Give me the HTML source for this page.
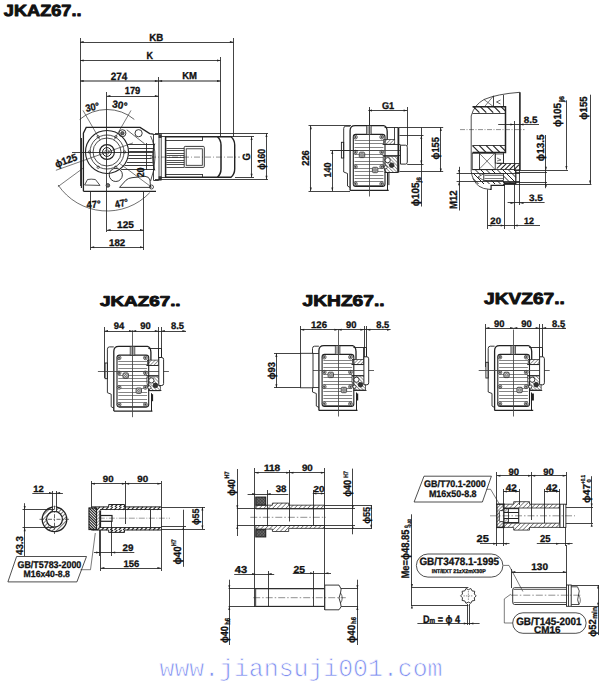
<!DOCTYPE html>
<html><head><meta charset="utf-8"><style>
html,body{margin:0;padding:0;background:#fff;width:608px;height:686px;overflow:hidden}
svg{position:absolute;left:0;top:0;display:block;text-rendering:geometricPrecision}
text{font-family:"Liberation Sans",sans-serif}
</style></head><body>
<svg width="608" height="686" viewBox="0 0 608 686" stroke-linecap="butt">
<defs><pattern id="hp1" patternUnits="userSpaceOnUse" width="2.6" height="2.6" patternTransform="rotate(45)"><line x1="0" y1="-1" x2="0" y2="3.6" stroke="#222" stroke-width="0.9"/></pattern><pattern id="hp2" patternUnits="userSpaceOnUse" width="2.4" height="2.4" patternTransform="rotate(-45)"><line x1="0" y1="-1" x2="0" y2="3.4" stroke="#222" stroke-width="0.8"/></pattern><pattern id="hp3" patternUnits="userSpaceOnUse" width="2.6" height="2.6" patternTransform="rotate(45)"><line x1="0" y1="-1" x2="0" y2="3.6" stroke="#222" stroke-width="0.9"/></pattern><pattern id="hp4" patternUnits="userSpaceOnUse" width="2.4" height="2.4" patternTransform="rotate(-45)"><line x1="0" y1="-1" x2="0" y2="3.4" stroke="#222" stroke-width="0.8"/></pattern><pattern id="hp5" patternUnits="userSpaceOnUse" width="2.6" height="2.6" patternTransform="rotate(45)"><line x1="0" y1="-1" x2="0" y2="3.6" stroke="#222" stroke-width="0.9"/></pattern><pattern id="hp6" patternUnits="userSpaceOnUse" width="2.4" height="2.4" patternTransform="rotate(-45)"><line x1="0" y1="-1" x2="0" y2="3.4" stroke="#222" stroke-width="0.8"/></pattern><pattern id="hp7" patternUnits="userSpaceOnUse" width="2.6" height="2.6" patternTransform="rotate(45)"><line x1="0" y1="-1" x2="0" y2="3.6" stroke="#222" stroke-width="0.9"/></pattern><pattern id="hp8" patternUnits="userSpaceOnUse" width="2.4" height="2.4" patternTransform="rotate(-45)"><line x1="0" y1="-1" x2="0" y2="3.4" stroke="#222" stroke-width="0.8"/></pattern><pattern id="hp9" patternUnits="userSpaceOnUse" width="2.9" height="2.9" patternTransform="rotate(45)"><line x1="0" y1="-1" x2="0" y2="3.9" stroke="#222" stroke-width="1.2"/></pattern><pattern id="hp10" patternUnits="userSpaceOnUse" width="2.2" height="2.2" patternTransform="rotate(45)"><line x1="0" y1="-1" x2="0" y2="3.2" stroke="#222" stroke-width="0.8"/></pattern><pattern id="hp11" patternUnits="userSpaceOnUse" width="3.1" height="3.1" patternTransform="rotate(45)"><line x1="0" y1="-1" x2="0" y2="4.1" stroke="#222" stroke-width="1.0"/></pattern><pattern id="hp12" patternUnits="userSpaceOnUse" width="2.2" height="2.2" patternTransform="rotate(45)"><line x1="0" y1="-1" x2="0" y2="3.2" stroke="#222" stroke-width="0.6"/></pattern><pattern id="hp13" patternUnits="userSpaceOnUse" width="2.2" height="2.2" patternTransform="rotate(-45)"><line x1="0" y1="-1" x2="0" y2="3.2" stroke="#222" stroke-width="0.6"/></pattern><pattern id="hp14" patternUnits="userSpaceOnUse" width="2.4" height="2.4" patternTransform="rotate(45)"><line x1="0" y1="-1" x2="0" y2="3.4" stroke="#222" stroke-width="1.0"/></pattern><pattern id="hp15" patternUnits="userSpaceOnUse" width="1.8" height="1.8" patternTransform="rotate(45)"><line x1="0" y1="-1" x2="0" y2="2.8" stroke="#222" stroke-width="0.8"/></pattern><pattern id="hp16" patternUnits="userSpaceOnUse" width="1.8" height="1.8" patternTransform="rotate(45)"><line x1="0" y1="-1" x2="0" y2="2.8" stroke="#222" stroke-width="0.8"/></pattern></defs>
<text x="42.7" y="16.2" font-size="16.2" font-weight="bold" style="font-family:&quot;Liberation Sans&quot;" text-anchor="middle" fill="#111" textLength="77.8" lengthAdjust="spacingAndGlyphs" stroke="#111" stroke-width="0.9" stroke-linejoin="round">JKAZ67..</text>
<text x="140.3" y="306.4" font-size="14.25" font-weight="bold" style="font-family:&quot;Liberation Sans&quot;" text-anchor="middle" fill="#111" textLength="80.6" lengthAdjust="spacingAndGlyphs" stroke="#111" stroke-width="0.9" stroke-linejoin="round">JKAZ67..</text>
<text x="343.6" y="305.7" font-size="15.64" font-weight="bold" style="font-family:&quot;Liberation Sans&quot;" text-anchor="middle" fill="#111" textLength="82" lengthAdjust="spacingAndGlyphs" stroke="#111" stroke-width="0.9" stroke-linejoin="round">JKHZ67..</text>
<text x="524.5" y="304" font-size="16.06" font-weight="bold" style="font-family:&quot;Liberation Sans&quot;" text-anchor="middle" fill="#111" textLength="80.8" lengthAdjust="spacingAndGlyphs" stroke="#111" stroke-width="0.9" stroke-linejoin="round">JKVZ67..</text>
<line x1="80" y1="42.5" x2="233.5" y2="42.5" stroke="#222" stroke-width="0.85"/>
<path d="M80 42 L83.6 40.99 L83.6 43.01 Z" fill="#222" stroke="none"/>
<path d="M233.5 42 L229.9 40.99 L229.9 43.01 Z" fill="#222" stroke="none"/>
<line x1="80.5" y1="38" x2="80.5" y2="186" stroke="#222" stroke-width="0.85"/>
<line x1="233.5" y1="38" x2="233.5" y2="137" stroke="#222" stroke-width="0.85"/>
<text x="156.3" y="40.6" font-size="10.34" font-weight="bold" style="font-family:&quot;Liberation Sans&quot;" text-anchor="middle" fill="#111" textLength="14" lengthAdjust="spacingAndGlyphs" stroke="#111" stroke-width="0.3">KB</text>
<line x1="80" y1="60.5" x2="220.6" y2="60.5" stroke="#222" stroke-width="0.85"/>
<path d="M80 60.5 L83.6 59.49 L83.6 61.51 Z" fill="#222" stroke="none"/>
<path d="M220.6 60.5 L217 59.49 L217 61.51 Z" fill="#222" stroke="none"/>
<line x1="220.5" y1="57" x2="220.5" y2="137" stroke="#222" stroke-width="0.85"/>
<text x="149.75" y="58.7" font-size="10.34" font-weight="bold" style="font-family:&quot;Liberation Sans&quot;" text-anchor="middle" fill="#111" textLength="6.5" lengthAdjust="spacingAndGlyphs" stroke="#111" stroke-width="0.3">K</text>
<line x1="80" y1="81" x2="220.6" y2="81" stroke="#222" stroke-width="1.06"/>
<path d="M80 81 L83.6 79.99 L83.6 82.01 Z" fill="#222" stroke="none"/>
<path d="M220.6 81 L217 79.99 L217 82.01 Z" fill="#222" stroke="none"/>
<line x1="158.5" y1="77" x2="158.5" y2="134" stroke="#222" stroke-width="0.85"/>
<path d="M158.5 81 L154.9 79.99 L154.9 82.01 Z" fill="#222" stroke="none"/>
<path d="M158.5 81 L162.1 79.99 L162.1 82.01 Z" fill="#222" stroke="none"/>
<text x="119" y="79.8" font-size="10.61" font-weight="bold" style="font-family:&quot;Liberation Sans&quot;" text-anchor="middle" fill="#111" textLength="16.6" lengthAdjust="spacingAndGlyphs" stroke="#111" stroke-width="0.3">274</text>
<text x="189.6" y="79" font-size="10.06" font-weight="bold" style="font-family:&quot;Liberation Sans&quot;" text-anchor="middle" fill="#111" textLength="14.8" lengthAdjust="spacingAndGlyphs" stroke="#111" stroke-width="0.3">KM</text>
<line x1="106.8" y1="96.5" x2="158.5" y2="96.5" stroke="#222" stroke-width="0.85"/>
<path d="M106.8 96 L110.4 94.99 L110.4 97.01 Z" fill="#222" stroke="none"/>
<path d="M158.5 96 L154.9 94.99 L154.9 97.01 Z" fill="#222" stroke="none"/>
<line x1="106.5" y1="92" x2="106.5" y2="232" stroke="#222" stroke-width="0.85"/>
<text x="132.5" y="94.4" font-size="10.34" font-weight="bold" style="font-family:&quot;Liberation Sans&quot;" text-anchor="middle" fill="#111" textLength="15.6" lengthAdjust="spacingAndGlyphs" stroke="#111" stroke-width="0.3">179</text>
<line x1="107" y1="230.5" x2="143.6" y2="230.5" stroke="#222" stroke-width="0.85"/>
<path d="M107 230 L110.6 228.99 L110.6 231.01 Z" fill="#222" stroke="none"/>
<path d="M143.6 230 L140 228.99 L140 231.01 Z" fill="#222" stroke="none"/>
<line x1="90.6" y1="247.5" x2="143.6" y2="247.5" stroke="#222" stroke-width="0.85"/>
<path d="M90.6 247.2 L94.2 246.19 L94.2 248.21 Z" fill="#222" stroke="none"/>
<path d="M143.6 247.2 L140 246.19 L140 248.21 Z" fill="#222" stroke="none"/>
<line x1="90.5" y1="191" x2="90.5" y2="250" stroke="#222" stroke-width="0.85"/>
<line x1="143.5" y1="191" x2="143.5" y2="250" stroke="#222" stroke-width="0.85"/>
<text x="125.5" y="227.9" font-size="9.78" font-weight="bold" style="font-family:&quot;Liberation Sans&quot;" text-anchor="middle" fill="#111" textLength="16.8" lengthAdjust="spacingAndGlyphs" stroke="#111" stroke-width="0.3">125</text>
<text x="117.1" y="245.7" font-size="9.78" font-weight="bold" style="font-family:&quot;Liberation Sans&quot;" text-anchor="middle" fill="#111" textLength="16.2" lengthAdjust="spacingAndGlyphs" stroke="#111" stroke-width="0.3">182</text>
<path d="M83.4 191.3 L83.4 133.2 L86.2 127.4 L140.1 127.4 L149.7 133.6 L153.4 134.2" stroke="#222" stroke-width="1.3" fill="none"/>
<line x1="81.4" y1="138" x2="81.4" y2="188" stroke="#222" stroke-width="1.1"/>
<line x1="83.4" y1="191.3" x2="156" y2="191.3" stroke="#222" stroke-width="1.2"/>
<line x1="126.8" y1="129.8" x2="144.6" y2="143.8" stroke="#222" stroke-width="0.7"/>
<circle cx="107" cy="152" r="2.2" stroke="#222" stroke-width="0.6" fill="none"/>
<circle cx="107" cy="152" r="4.4" stroke="#222" stroke-width="1.0" fill="none"/>
<circle cx="107" cy="152" r="7.4" stroke="#222" stroke-width="1.2" fill="none"/>
<circle cx="107" cy="152" r="14" stroke="#222" stroke-width="0.8" fill="none"/>
<circle cx="107" cy="152" r="17" stroke="#222" stroke-width="0.8" fill="none"/>
<circle cx="107" cy="152" r="21.5" stroke="#222" stroke-width="1.1" fill="none"/>
<circle cx="98.2" cy="136.76" r="1.2" stroke="#222" stroke-width="0.7" fill="none"/>
<circle cx="115.8" cy="136.76" r="1.2" stroke="#222" stroke-width="0.7" fill="none"/>
<circle cx="124.6" cy="152" r="1.2" stroke="#222" stroke-width="0.7" fill="none"/>
<circle cx="89.4" cy="152" r="1.2" stroke="#222" stroke-width="0.7" fill="none"/>
<circle cx="98.2" cy="167.24" r="1.2" stroke="#222" stroke-width="0.7" fill="none"/>
<circle cx="115.8" cy="167.24" r="1.2" stroke="#222" stroke-width="0.7" fill="none"/>
<circle cx="115.8" cy="174.9" r="6.6" stroke="#222" stroke-width="0.9" fill="none"/>
<circle cx="138.6" cy="133.2" r="3.6" stroke="#222" stroke-width="0.9" fill="none"/>
<circle cx="122.4" cy="133.2" r="3.5" stroke="#222" stroke-width="0.9" fill="none"/>
<circle cx="122.4" cy="133.2" r="1.7" stroke="#222" stroke-width="0.7" fill="#666"/>
<circle cx="151.5" cy="187" r="2" stroke="#222" stroke-width="0.8" fill="none"/>
<circle cx="107.9" cy="185.4" r="1.8" stroke="#222" stroke-width="0.8" fill="#777"/>
<line x1="127.93" y1="144.5" x2="154.92" y2="144.5" stroke="#333" stroke-width="0.95"/>
<line x1="128.85" y1="148.5" x2="153.87" y2="148.5" stroke="#333" stroke-width="0.95"/>
<line x1="129.2" y1="151.5" x2="152.82" y2="151.5" stroke="#333" stroke-width="0.95"/>
<line x1="128.98" y1="155.5" x2="151.77" y2="155.5" stroke="#333" stroke-width="0.95"/>
<line x1="128.2" y1="158.5" x2="151.68" y2="158.5" stroke="#333" stroke-width="0.95"/>
<line x1="126.77" y1="162.5" x2="152.73" y2="162.5" stroke="#333" stroke-width="0.95"/>
<line x1="124.55" y1="165.5" x2="153.78" y2="165.5" stroke="#333" stroke-width="0.95"/>
<line x1="121.16" y1="169.5" x2="154.83" y2="169.5" stroke="#333" stroke-width="0.95"/>
<line x1="146.5" y1="143" x2="146.5" y2="170" stroke="#222" stroke-width="0.85"/>
<path d="M154.8 143.5 Q150.2 157 154.8 170.5" stroke="#222" stroke-width="0.8" fill="none"/>
<path d="M84.6 185 L87.5 179.5 Q91 178.8 95.4 179.5 L100 185.4 Z" stroke="#222" stroke-width="0.8" fill="none"/>
<path d="M119.5 187.4 L126 180.2 Q128.5 178 132 177.7 L145 176.3 Q149 176.5 150 180 L150.5 187.4 Z" stroke="#222" stroke-width="0.9" fill="none"/>
<path d="M150.6 136 Q155 145 155 157 Q155 170 150.6 181" stroke="#222" stroke-width="0.8" fill="none"/>
<line x1="153.4" y1="134.5" x2="158.8" y2="134.5" stroke="#222" stroke-width="0.9"/>
<line x1="153.4" y1="180.5" x2="158.8" y2="180.5" stroke="#222" stroke-width="0.9"/>
<line x1="153.5" y1="134.2" x2="153.5" y2="180.2" stroke="#222" stroke-width="0.85"/>
<line x1="72" y1="152.5" x2="153" y2="152.5" stroke="#222" stroke-width="0.85"/>
<line x1="100" y1="139.88" x2="83" y2="110.43" stroke="#222" stroke-width="0.6"/>
<line x1="114" y1="139.88" x2="131" y2="110.43" stroke="#222" stroke-width="0.6"/>
<path d="M79.68 119.44 A42.5 42.5 0 0 1 134.32 119.44" stroke="#222" stroke-width="0.7" fill="none"/>
<path d="M58.09 184.99 A59 59 0 0 0 149.80 192.61" stroke="#222" stroke-width="0.65" fill="none"/>
<line x1="57.9" y1="186.7" x2="84" y2="167.5" stroke="#222" stroke-width="0.6"/>
<line x1="119" y1="163" x2="152" y2="187.5" stroke="#222" stroke-width="0.6"/>
<line x1="55.9" y1="170.3" x2="133" y2="142.9" stroke="#222" stroke-width="0.6"/>
<text x="66" y="164.1" font-size="10.06" font-weight="bold" text-anchor="middle" fill="#111" stroke="#111" stroke-width="0.3" textLength="23" lengthAdjust="spacingAndGlyphs" transform="rotate(-20 66 160.5)">ϕ125</text>
<text x="92.3" y="110.7" font-size="10.34" font-weight="bold" text-anchor="middle" fill="#111" stroke="#111" stroke-width="0.3" textLength="14" lengthAdjust="spacingAndGlyphs" transform="rotate(-12 92.3 107)">30°</text>
<text x="119.8" y="108.7" font-size="10.34" font-weight="bold" text-anchor="middle" fill="#111" stroke="#111" stroke-width="0.3" textLength="15" lengthAdjust="spacingAndGlyphs" transform="rotate(10 119.8 105)">30°</text>
<text x="93.6" y="207.8" font-size="10.06" font-weight="bold" text-anchor="middle" fill="#111" stroke="#111" stroke-width="0.3" textLength="14" lengthAdjust="spacingAndGlyphs" transform="rotate(-4 93.6 204.2)">47°</text>
<text x="121.5" y="206.8" font-size="10.06" font-weight="bold" text-anchor="middle" fill="#111" stroke="#111" stroke-width="0.3" textLength="13.5" lengthAdjust="spacingAndGlyphs" transform="rotate(-14 121.5 203.2)">47°</text>
<text x="140.8" y="175.9" font-size="10.06" font-weight="bold" text-anchor="middle" fill="#111" stroke="#111" stroke-width="0.3" textLength="9.5" lengthAdjust="spacingAndGlyphs" transform="rotate(-90 140.8 172.3)">20</text>
<rect x="159" y="134" width="2.2" height="46.1" rx="0" stroke="#222" stroke-width="0.8" fill="none"/>
<rect x="158.6" y="134.6" width="3" height="3.4" rx="0" stroke="#222" stroke-width="0" fill="#333"/>
<rect x="158.6" y="176.2" width="3" height="3.4" rx="0" stroke="#222" stroke-width="0" fill="#333"/>
<line x1="155" y1="133.5" x2="268" y2="133.5" stroke="#222" stroke-width="0.85"/>
<line x1="155" y1="179.5" x2="268" y2="179.5" stroke="#222" stroke-width="0.85"/>
<line x1="161.2" y1="136.5" x2="165.6" y2="136.5" stroke="#222" stroke-width="0.85"/>
<line x1="161.2" y1="177.5" x2="165.6" y2="177.5" stroke="#222" stroke-width="0.85"/>
<path d="M165.6 136.8 L217.4 136.8 Q221 140 221 145 L221 169 Q221 174 217.4 177.3 L165.6 177.3 Z" stroke="#222" stroke-width="1.5" fill="none"/>
<path d="M217.4 136.8 L231 136.8 Q234.7 140 234.7 145 L234.7 169 Q234.7 174 231 177.3 L217.4 177.3" stroke="#222" stroke-width="1.4" fill="none"/>
<line x1="165.6" y1="140.5" x2="202.6" y2="140.5" stroke="#222" stroke-width="0.85"/>
<line x1="165.6" y1="174.5" x2="202.6" y2="174.5" stroke="#222" stroke-width="0.85"/>
<line x1="202.5" y1="136.8" x2="202.5" y2="140.6" stroke="#222" stroke-width="0.85"/>
<line x1="202.5" y1="174" x2="202.5" y2="177.3" stroke="#222" stroke-width="0.85"/>
<line x1="166.4" y1="148.5" x2="184.2" y2="148.5" stroke="#333" stroke-width="0.85"/>
<line x1="166.4" y1="150.5" x2="184.2" y2="150.5" stroke="#333" stroke-width="0.85"/>
<line x1="166.4" y1="153.5" x2="184.2" y2="153.5" stroke="#333" stroke-width="0.85"/>
<line x1="166.4" y1="155.5" x2="184.2" y2="155.5" stroke="#333" stroke-width="0.85"/>
<line x1="166.4" y1="157.5" x2="184.2" y2="157.5" stroke="#333" stroke-width="0.85"/>
<line x1="166.4" y1="160.5" x2="184.2" y2="160.5" stroke="#333" stroke-width="0.85"/>
<line x1="166.4" y1="162.5" x2="184.2" y2="162.5" stroke="#333" stroke-width="0.85"/>
<line x1="166.4" y1="164.5" x2="184.2" y2="164.5" stroke="#333" stroke-width="0.85"/>
<line x1="166.4" y1="167.5" x2="184.2" y2="167.5" stroke="#333" stroke-width="0.85"/>
<rect x="184.2" y="146.4" width="20.1" height="21" rx="1" stroke="#222" stroke-width="0.9" fill="none"/>
<rect x="186.2" y="148.8" width="16.1" height="16.5" rx="0" stroke="#222" stroke-width="0.8" fill="none"/>
<line x1="150" y1="157.1" x2="240" y2="157.1" stroke="#222" stroke-width="0.5" stroke-dasharray="6 2 1 2"/>
<line x1="221" y1="136.5" x2="254" y2="136.5" stroke="#222" stroke-width="0.85"/>
<line x1="235" y1="177.5" x2="254" y2="177.5" stroke="#222" stroke-width="0.85"/>
<line x1="251.5" y1="136.4" x2="251.5" y2="177.4" stroke="#222" stroke-width="0.85"/>
<path d="M251.6 136.4 L250.59 140 L252.61 140 Z" fill="#222" stroke="none"/>
<path d="M251.6 177.4 L250.59 173.8 L252.61 173.8 Z" fill="#222" stroke="none"/>
<text x="246" y="160.7" font-size="10.61" font-weight="bold" text-anchor="middle" fill="#111" stroke="#111" stroke-width="0.3" textLength="7.4" lengthAdjust="spacingAndGlyphs" transform="rotate(-90 246 156.9)">G</text>
<line x1="266.5" y1="133.4" x2="266.5" y2="179.4" stroke="#222" stroke-width="0.85"/>
<path d="M266.5 133.4 L265.49 137 L267.51 137 Z" fill="#222" stroke="none"/>
<path d="M266.5 179.4 L265.49 175.8 L267.51 175.8 Z" fill="#222" stroke="none"/>
<text x="261.2" y="163" font-size="10.34" font-weight="bold" text-anchor="middle" fill="#111" stroke="#111" stroke-width="0.3" textLength="20.8" lengthAdjust="spacingAndGlyphs" transform="rotate(-90 261.2 159.3)">ϕ160</text>
<line x1="354.6" y1="140.5" x2="383.4" y2="140.5" stroke="#777" stroke-width="0.9"/>
<line x1="354.6" y1="143.5" x2="383.4" y2="143.5" stroke="#777" stroke-width="0.9"/>
<line x1="354.6" y1="147.5" x2="383.4" y2="147.5" stroke="#777" stroke-width="0.9"/>
<line x1="354.6" y1="150.5" x2="383.4" y2="150.5" stroke="#777" stroke-width="0.9"/>
<line x1="354.6" y1="154.5" x2="383.4" y2="154.5" stroke="#777" stroke-width="0.9"/>
<line x1="354.6" y1="157.5" x2="383.4" y2="157.5" stroke="#777" stroke-width="0.9"/>
<line x1="354.6" y1="161.5" x2="383.4" y2="161.5" stroke="#777" stroke-width="0.9"/>
<line x1="354.6" y1="164.5" x2="383.4" y2="164.5" stroke="#777" stroke-width="0.9"/>
<line x1="354.6" y1="168.5" x2="383.4" y2="168.5" stroke="#777" stroke-width="0.9"/>
<line x1="354.6" y1="171.5" x2="383.4" y2="171.5" stroke="#777" stroke-width="0.9"/>
<line x1="354.6" y1="175.5" x2="383.4" y2="175.5" stroke="#777" stroke-width="0.9"/>
<line x1="354.6" y1="178.5" x2="383.4" y2="178.5" stroke="#777" stroke-width="0.9"/>
<line x1="354.6" y1="181.5" x2="383.4" y2="181.5" stroke="#777" stroke-width="0.9"/>
<line x1="354.6" y1="185.5" x2="383.4" y2="185.5" stroke="#777" stroke-width="0.9"/>
<rect x="341.4" y="142.3" width="2.3" height="15.7" rx="0" stroke="#222" stroke-width="0.9" fill="none"/>
<path d="M350.1 126.2 L345.8 126.2 Q343.7 126.2 343.7 128.5 L343.7 172 L347.5 173.5 L347.5 186 L350.1 187.5" stroke="#222" stroke-width="0.9" fill="none"/>
<path d="M350.1 190.4 L350.1 130.6 Q350.1 125.6 355.1 125.6 L383.7 125.6 Q387 126.3 387.2 131.5 L387.2 139.4" stroke="#222" stroke-width="1.3" fill="none"/>
<line x1="350.1" y1="190.4" x2="388.7" y2="190.4" stroke="#222" stroke-width="1.4"/>
<line x1="387.5" y1="172.5" x2="387.5" y2="190.4" stroke="#222" stroke-width="1.0"/>
<rect x="353.3" y="134.4" width="31.7" height="52" rx="2.5" stroke="#222" stroke-width="1.1" fill="none"/>
<rect x="366.4" y="125.6" width="4.8" height="8.8" rx="0" stroke="#222" stroke-width="0.6" fill="#aaa"/>
<circle cx="355.4" cy="137.1" r="1.9" stroke="#222" stroke-width="0.7" fill="#fff"/>
<circle cx="355.4" cy="137.1" r="0.8" stroke="#222" stroke-width="0.6" fill="#555"/>
<circle cx="355.4" cy="152.2" r="1.9" stroke="#222" stroke-width="0.7" fill="#fff"/>
<circle cx="355.4" cy="152.2" r="0.8" stroke="#222" stroke-width="0.6" fill="#555"/>
<circle cx="355.4" cy="166.7" r="1.9" stroke="#222" stroke-width="0.7" fill="#fff"/>
<circle cx="355.4" cy="166.7" r="0.8" stroke="#222" stroke-width="0.6" fill="#555"/>
<circle cx="355.4" cy="183.8" r="1.9" stroke="#222" stroke-width="0.7" fill="#fff"/>
<circle cx="355.4" cy="183.8" r="0.8" stroke="#222" stroke-width="0.6" fill="#555"/>
<circle cx="381.7" cy="137.1" r="1.9" stroke="#222" stroke-width="0.7" fill="#fff"/>
<circle cx="381.7" cy="137.1" r="0.8" stroke="#222" stroke-width="0.6" fill="#555"/>
<circle cx="381.7" cy="152.2" r="1.9" stroke="#222" stroke-width="0.7" fill="#fff"/>
<circle cx="381.7" cy="152.2" r="0.8" stroke="#222" stroke-width="0.6" fill="#555"/>
<circle cx="381.7" cy="166.7" r="1.9" stroke="#222" stroke-width="0.7" fill="#fff"/>
<circle cx="381.7" cy="166.7" r="0.8" stroke="#222" stroke-width="0.6" fill="#555"/>
<circle cx="381.7" cy="183.8" r="1.9" stroke="#222" stroke-width="0.7" fill="#fff"/>
<circle cx="381.7" cy="183.8" r="0.8" stroke="#222" stroke-width="0.6" fill="#555"/>
<rect x="359.3" y="152.2" width="5.4" height="5.4" rx="1.2" stroke="#222" stroke-width="0.8" fill="#fff"/>
<circle cx="360.9" cy="153.8" r="0.9" stroke="#222" stroke-width="0.5" fill="none"/>
<circle cx="363.1" cy="156" r="0.9" stroke="#222" stroke-width="0.5" fill="none"/>
<circle cx="360.9" cy="156" r="0.9" stroke="#222" stroke-width="0.5" fill="none"/>
<circle cx="363.1" cy="153.8" r="0.9" stroke="#222" stroke-width="0.5" fill="none"/>
<rect x="372.4" y="167.3" width="5.4" height="5.4" rx="1.2" stroke="#222" stroke-width="0.8" fill="#fff"/>
<circle cx="374" cy="168.9" r="0.9" stroke="#222" stroke-width="0.5" fill="none"/>
<circle cx="376.2" cy="171.1" r="0.9" stroke="#222" stroke-width="0.5" fill="none"/>
<circle cx="374" cy="171.1" r="0.9" stroke="#222" stroke-width="0.5" fill="none"/>
<circle cx="376.2" cy="168.9" r="0.9" stroke="#222" stroke-width="0.5" fill="none"/>
<line x1="369.5" y1="109.5" x2="369.5" y2="196.5" stroke="#444" stroke-width="0.85"/>
<line x1="334.2" y1="150.5" x2="405.2" y2="150.5" stroke="#444" stroke-width="0.85"/>
<line x1="384.6" y1="127.5" x2="398.4" y2="127.5" stroke="#222" stroke-width="0.9"/>
<line x1="394.5" y1="127.4" x2="394.5" y2="139.5" stroke="#222" stroke-width="0.85"/>
<rect x="397.5" y="127.4" width="1.8" height="45.1" rx="0" stroke="#222" stroke-width="0" fill="#222"/>
<rect x="383.7" y="139.4" width="11" height="4.8" fill="url(#hp1)" stroke="#222" stroke-width="0.7"/>
<line x1="382.6" y1="144.5" x2="400.5" y2="144.5" stroke="#222" stroke-width="0.85"/>
<line x1="382.6" y1="155.5" x2="400.5" y2="155.5" stroke="#222" stroke-width="0.85"/>
<path d="M383.2 156.5 L397.4 156.5 L397.4 172.5 L386.2 172.5 Q383.2 169.5 383.2 161.7 Z" fill="url(#hp2)" stroke="#222" stroke-width="0.7"/>
<circle cx="387.7" cy="160.2" r="2.6" stroke="#222" stroke-width="0.9" fill="#fff"/>
<circle cx="391.7" cy="165.2" r="2.3" stroke="#222" stroke-width="0.8" fill="#333"/>
<circle cx="385.7" cy="167.2" r="1.6" stroke="#222" stroke-width="0.8" fill="#fff"/>
<line x1="384.6" y1="172.5" x2="398.4" y2="172.5" stroke="#222" stroke-width="0.9"/>
<path d="M400.5 145.2 L405.5 145.2 Q407.3 145.2 407.3 147.2 L407.3 162.1 Q407.3 164.1 405.5 164.1 L400.5 164.1 Z" stroke="#222" stroke-width="0.95" fill="#fff"/>
<rect x="388.4" y="172.5" width="1" height="12.6" rx="0" stroke="#222" stroke-width="0" fill="#222"/>
<line x1="368.4" y1="110.5" x2="407.2" y2="110.5" stroke="#222" stroke-width="0.85"/>
<path d="M368.4 110.4 L372 109.39 L372 111.41 Z" fill="#222" stroke="none"/>
<path d="M407.2 110.4 L403.6 109.39 L403.6 111.41 Z" fill="#222" stroke="none"/>
<line x1="407.5" y1="107" x2="407.5" y2="145.5" stroke="#222" stroke-width="0.85"/>
<line x1="369.5" y1="107" x2="369.5" y2="126" stroke="#222" stroke-width="0.85"/>
<text x="388" y="109.2" font-size="9.78" font-weight="bold" style="font-family:&quot;Liberation Sans&quot;" text-anchor="middle" fill="#111" textLength="12.2" lengthAdjust="spacingAndGlyphs" stroke="#111" stroke-width="0.3">G1</text>
<line x1="310.5" y1="125.6" x2="310.5" y2="191.1" stroke="#222" stroke-width="0.85"/>
<path d="M310.8 125.6 L309.79 129.2 L311.81 129.2 Z" fill="#222" stroke="none"/>
<path d="M310.8 191.1 L309.79 187.5 L311.81 187.5 Z" fill="#222" stroke="none"/>
<line x1="308.5" y1="125.5" x2="351" y2="125.5" stroke="#222" stroke-width="0.85"/>
<line x1="308.5" y1="191.5" x2="350" y2="191.5" stroke="#222" stroke-width="0.85"/>
<text x="305.5" y="161.6" font-size="10.06" font-weight="bold" text-anchor="middle" fill="#111" stroke="#111" stroke-width="0.3" textLength="15.5" lengthAdjust="spacingAndGlyphs" transform="rotate(-90 305.5 158)">226</text>
<line x1="332.5" y1="150.5" x2="332.5" y2="191.1" stroke="#222" stroke-width="0.85"/>
<path d="M332.3 150.5 L331.29 154.1 L333.31 154.1 Z" fill="#222" stroke="none"/>
<path d="M332.3 191.1 L331.29 187.5 L333.31 187.5 Z" fill="#222" stroke="none"/>
<line x1="330" y1="150.5" x2="358" y2="150.5" stroke="#222" stroke-width="0.85"/>
<text x="327.8" y="173.5" font-size="10.06" font-weight="bold" text-anchor="middle" fill="#111" stroke="#111" stroke-width="0.3" textLength="15" lengthAdjust="spacingAndGlyphs" transform="rotate(-90 327.8 169.9)">140</text>
<line x1="440.5" y1="127.4" x2="440.5" y2="172" stroke="#222" stroke-width="0.85"/>
<path d="M440.8 127.4 L439.79 131 L441.81 131 Z" fill="#222" stroke="none"/>
<path d="M440.8 172 L439.79 168.4 L441.81 168.4 Z" fill="#222" stroke="none"/>
<line x1="398.9" y1="127.5" x2="443.2" y2="127.5" stroke="#222" stroke-width="0.85"/>
<line x1="399.5" y1="171.5" x2="443.2" y2="171.5" stroke="#222" stroke-width="0.85"/>
<text x="435.2" y="152" font-size="10.34" font-weight="bold" text-anchor="middle" fill="#111" stroke="#111" stroke-width="0.3" textLength="22.5" lengthAdjust="spacingAndGlyphs" transform="rotate(-90 435.2 148.3)">ϕ155</text>
<line x1="421.5" y1="135.5" x2="421.5" y2="164.2" stroke="#222" stroke-width="0.85"/>
<path d="M421.3 135.5 L420.29 139.1 L422.31 139.1 Z" fill="#222" stroke="none"/>
<path d="M421.3 164.2 L420.29 160.6 L422.31 160.6 Z" fill="#222" stroke="none"/>
<line x1="399.5" y1="135.5" x2="423.5" y2="135.5" stroke="#222" stroke-width="0.85"/>
<line x1="407.2" y1="164.5" x2="423.5" y2="164.5" stroke="#222" stroke-width="0.85"/>
<line x1="421.5" y1="127.7" x2="421.5" y2="206.5" stroke="#222" stroke-width="0.85"/>
<text x="415.4" y="198.2" font-size="10.61" font-weight="bold" text-anchor="middle" fill="#111" stroke="#111" stroke-width="0.3" textLength="23.5" lengthAdjust="spacingAndGlyphs" transform="rotate(-90 415.4 194.4)">ϕ105</text>
<text x="418.3" y="182.1" font-size="6.42" font-weight="bold" text-anchor="middle" fill="#111" stroke="#111" stroke-width="0.3" textLength="5.5" lengthAdjust="spacingAndGlyphs" transform="rotate(-90 418.3 179.8)">j6</text>
<line x1="118.3" y1="361.5" x2="147.1" y2="361.5" stroke="#777" stroke-width="0.9"/>
<line x1="118.3" y1="364.5" x2="147.1" y2="364.5" stroke="#777" stroke-width="0.9"/>
<line x1="118.3" y1="368.5" x2="147.1" y2="368.5" stroke="#777" stroke-width="0.9"/>
<line x1="118.3" y1="371.5" x2="147.1" y2="371.5" stroke="#777" stroke-width="0.9"/>
<line x1="118.3" y1="375.5" x2="147.1" y2="375.5" stroke="#777" stroke-width="0.9"/>
<line x1="118.3" y1="378.5" x2="147.1" y2="378.5" stroke="#777" stroke-width="0.9"/>
<line x1="118.3" y1="381.5" x2="147.1" y2="381.5" stroke="#777" stroke-width="0.9"/>
<line x1="118.3" y1="385.5" x2="147.1" y2="385.5" stroke="#777" stroke-width="0.9"/>
<line x1="118.3" y1="388.5" x2="147.1" y2="388.5" stroke="#777" stroke-width="0.9"/>
<line x1="118.3" y1="392.5" x2="147.1" y2="392.5" stroke="#777" stroke-width="0.9"/>
<line x1="118.3" y1="395.5" x2="147.1" y2="395.5" stroke="#777" stroke-width="0.9"/>
<line x1="118.3" y1="399.5" x2="147.1" y2="399.5" stroke="#777" stroke-width="0.9"/>
<line x1="118.3" y1="402.5" x2="147.1" y2="402.5" stroke="#777" stroke-width="0.9"/>
<line x1="118.3" y1="406.5" x2="147.1" y2="406.5" stroke="#777" stroke-width="0.9"/>
<rect x="105.1" y="363" width="2.3" height="15.7" rx="0" stroke="#222" stroke-width="0.9" fill="none"/>
<path d="M113.8 346.9 L109.5 346.9 Q107.4 346.9 107.4 349.2 L107.4 392.7 L111.2 394.2 L111.2 406.7 L113.8 408.2" stroke="#222" stroke-width="0.9" fill="none"/>
<path d="M113.8 411.1 L113.8 351.3 Q113.8 346.3 118.8 346.3 L147.4 346.3 Q150.7 347 150.9 352.2 L150.9 360.1" stroke="#222" stroke-width="1.3" fill="none"/>
<line x1="113.8" y1="411.1" x2="152.4" y2="411.1" stroke="#222" stroke-width="1.4"/>
<line x1="151.5" y1="393.2" x2="151.5" y2="411.1" stroke="#222" stroke-width="1.0"/>
<rect x="117" y="355.1" width="31.7" height="52" rx="2.5" stroke="#222" stroke-width="1.1" fill="none"/>
<rect x="130.1" y="346.3" width="4.8" height="8.8" rx="0" stroke="#222" stroke-width="0.6" fill="#aaa"/>
<circle cx="119.1" cy="357.8" r="1.9" stroke="#222" stroke-width="0.7" fill="#fff"/>
<circle cx="119.1" cy="357.8" r="0.8" stroke="#222" stroke-width="0.6" fill="#555"/>
<circle cx="119.1" cy="372.9" r="1.9" stroke="#222" stroke-width="0.7" fill="#fff"/>
<circle cx="119.1" cy="372.9" r="0.8" stroke="#222" stroke-width="0.6" fill="#555"/>
<circle cx="119.1" cy="387.4" r="1.9" stroke="#222" stroke-width="0.7" fill="#fff"/>
<circle cx="119.1" cy="387.4" r="0.8" stroke="#222" stroke-width="0.6" fill="#555"/>
<circle cx="119.1" cy="404.5" r="1.9" stroke="#222" stroke-width="0.7" fill="#fff"/>
<circle cx="119.1" cy="404.5" r="0.8" stroke="#222" stroke-width="0.6" fill="#555"/>
<circle cx="145.4" cy="357.8" r="1.9" stroke="#222" stroke-width="0.7" fill="#fff"/>
<circle cx="145.4" cy="357.8" r="0.8" stroke="#222" stroke-width="0.6" fill="#555"/>
<circle cx="145.4" cy="372.9" r="1.9" stroke="#222" stroke-width="0.7" fill="#fff"/>
<circle cx="145.4" cy="372.9" r="0.8" stroke="#222" stroke-width="0.6" fill="#555"/>
<circle cx="145.4" cy="387.4" r="1.9" stroke="#222" stroke-width="0.7" fill="#fff"/>
<circle cx="145.4" cy="387.4" r="0.8" stroke="#222" stroke-width="0.6" fill="#555"/>
<circle cx="145.4" cy="404.5" r="1.9" stroke="#222" stroke-width="0.7" fill="#fff"/>
<circle cx="145.4" cy="404.5" r="0.8" stroke="#222" stroke-width="0.6" fill="#555"/>
<rect x="123" y="372.9" width="5.4" height="5.4" rx="1.2" stroke="#222" stroke-width="0.8" fill="#fff"/>
<circle cx="124.6" cy="374.5" r="0.9" stroke="#222" stroke-width="0.5" fill="none"/>
<circle cx="126.8" cy="376.7" r="0.9" stroke="#222" stroke-width="0.5" fill="none"/>
<circle cx="124.6" cy="376.7" r="0.9" stroke="#222" stroke-width="0.5" fill="none"/>
<circle cx="126.8" cy="374.5" r="0.9" stroke="#222" stroke-width="0.5" fill="none"/>
<rect x="136.1" y="388" width="5.4" height="5.4" rx="1.2" stroke="#222" stroke-width="0.8" fill="#fff"/>
<circle cx="137.7" cy="389.6" r="0.9" stroke="#222" stroke-width="0.5" fill="none"/>
<circle cx="139.9" cy="391.8" r="0.9" stroke="#222" stroke-width="0.5" fill="none"/>
<circle cx="137.7" cy="391.8" r="0.9" stroke="#222" stroke-width="0.5" fill="none"/>
<circle cx="139.9" cy="389.6" r="0.9" stroke="#222" stroke-width="0.5" fill="none"/>
<line x1="132.5" y1="330.2" x2="132.5" y2="417.2" stroke="#444" stroke-width="0.85"/>
<line x1="97.9" y1="371.5" x2="168.9" y2="371.5" stroke="#444" stroke-width="0.85"/>
<line x1="148.3" y1="348.5" x2="161.4" y2="348.5" stroke="#222" stroke-width="0.9"/>
<line x1="158.5" y1="348.5" x2="158.5" y2="360.2" stroke="#222" stroke-width="0.85"/>
<line x1="161.5" y1="348.5" x2="161.5" y2="357.5" stroke="#222" stroke-width="1.0"/>
<rect x="147.4" y="360.1" width="11" height="5.3" fill="url(#hp3)" stroke="#222" stroke-width="0.7"/>
<line x1="146.3" y1="365.5" x2="158.8" y2="365.5" stroke="#222" stroke-width="0.85"/>
<line x1="146.3" y1="375.5" x2="158.8" y2="375.5" stroke="#222" stroke-width="0.85"/>
<path d="M146.9 376.7 L160.4 376.7 L160.4 390.7 L149.9 390.7 Q146.9 387.7 146.9 381.9 Z" fill="url(#hp4)" stroke="#222" stroke-width="0.7"/>
<circle cx="151.4" cy="380.4" r="2.6" stroke="#222" stroke-width="0.9" fill="#fff"/>
<circle cx="155.4" cy="385.4" r="2.3" stroke="#222" stroke-width="0.8" fill="#333"/>
<circle cx="149.4" cy="387.4" r="1.6" stroke="#222" stroke-width="0.8" fill="#fff"/>
<line x1="148.3" y1="390.5" x2="161.4" y2="390.5" stroke="#222" stroke-width="0.9"/>
<path d="M158.8 357.5 L161.8 357.5 Q163.6 357.5 163.6 359.5 L163.6 383.5 Q163.6 385.5 161.8 385.5 L158.8 385.5 Z" stroke="#222" stroke-width="0.95" fill="#fff"/>
<rect x="151" y="394.2" width="2.1" height="7" rx="0" stroke="#222" stroke-width="0" fill="#222"/>
<line x1="104.4" y1="331.5" x2="186" y2="331.5" stroke="#222" stroke-width="0.85"/>
<path d="M104.4 331 L108 329.99 L108 332.01 Z" fill="#222" stroke="none"/>
<path d="M186 331 L182.4 329.99 L182.4 332.01 Z" fill="#222" stroke="none"/>
<line x1="104.5" y1="327" x2="104.5" y2="378" stroke="#222" stroke-width="0.85"/>
<line x1="158.5" y1="327" x2="158.5" y2="358" stroke="#222" stroke-width="0.85"/>
<line x1="161.5" y1="327" x2="161.5" y2="357.5" stroke="#222" stroke-width="0.85"/>
<path d="M132.6 331 L136.2 329.99 L136.2 332.01 Z" fill="#222" stroke="none"/>
<path d="M132.6 331 L129 329.99 L129 332.01 Z" fill="#222" stroke="none"/>
<path d="M158.4 331 L154.8 329.99 L154.8 332.01 Z" fill="#222" stroke="none"/>
<path d="M161.2 331 L164.8 329.99 L164.8 332.01 Z" fill="#222" stroke="none"/>
<text x="119" y="329.4" font-size="9.5" font-weight="bold" text-anchor="middle" fill="#111" stroke="#111" stroke-width="0.3" textLength="10.5" lengthAdjust="spacingAndGlyphs">94</text>
<text x="145.6" y="329.4" font-size="9.5" font-weight="bold" text-anchor="middle" fill="#111" stroke="#111" stroke-width="0.3" textLength="10.5" lengthAdjust="spacingAndGlyphs">90</text>
<text x="177.5" y="329.4" font-size="9.5" font-weight="bold" text-anchor="middle" fill="#111" stroke="#111" stroke-width="0.3" textLength="13" lengthAdjust="spacingAndGlyphs">8.5</text>
<line x1="323.4" y1="360.5" x2="352.2" y2="360.5" stroke="#777" stroke-width="0.9"/>
<line x1="323.4" y1="363.5" x2="352.2" y2="363.5" stroke="#777" stroke-width="0.9"/>
<line x1="323.4" y1="367.5" x2="352.2" y2="367.5" stroke="#777" stroke-width="0.9"/>
<line x1="323.4" y1="370.5" x2="352.2" y2="370.5" stroke="#777" stroke-width="0.9"/>
<line x1="323.4" y1="374.5" x2="352.2" y2="374.5" stroke="#777" stroke-width="0.9"/>
<line x1="323.4" y1="377.5" x2="352.2" y2="377.5" stroke="#777" stroke-width="0.9"/>
<line x1="323.4" y1="381.5" x2="352.2" y2="381.5" stroke="#777" stroke-width="0.9"/>
<line x1="323.4" y1="384.5" x2="352.2" y2="384.5" stroke="#777" stroke-width="0.9"/>
<line x1="323.4" y1="388.5" x2="352.2" y2="388.5" stroke="#777" stroke-width="0.9"/>
<line x1="323.4" y1="391.5" x2="352.2" y2="391.5" stroke="#777" stroke-width="0.9"/>
<line x1="323.4" y1="395.5" x2="352.2" y2="395.5" stroke="#777" stroke-width="0.9"/>
<line x1="323.4" y1="398.5" x2="352.2" y2="398.5" stroke="#777" stroke-width="0.9"/>
<line x1="323.4" y1="401.5" x2="352.2" y2="401.5" stroke="#777" stroke-width="0.9"/>
<line x1="323.4" y1="405.5" x2="352.2" y2="405.5" stroke="#777" stroke-width="0.9"/>
<path d="M318.9 346.2 L314.6 346.2 Q312.5 346.2 312.5 348.5 L312.5 392 L316.3 393.5 L316.3 406 L318.9 407.5" stroke="#222" stroke-width="0.9" fill="none"/>
<path d="M318.9 410.4 L318.9 350.6 Q318.9 345.6 323.9 345.6 L352.5 345.6 Q355.8 346.3 356 351.5 L356 359.4" stroke="#222" stroke-width="1.3" fill="none"/>
<line x1="318.9" y1="410.4" x2="357.5" y2="410.4" stroke="#222" stroke-width="1.4"/>
<line x1="356.5" y1="392.5" x2="356.5" y2="410.4" stroke="#222" stroke-width="1.0"/>
<rect x="322.1" y="354.4" width="31.7" height="52" rx="2.5" stroke="#222" stroke-width="1.1" fill="none"/>
<rect x="335.2" y="345.6" width="4.8" height="8.8" rx="0" stroke="#222" stroke-width="0.6" fill="#aaa"/>
<circle cx="324.2" cy="357.1" r="1.9" stroke="#222" stroke-width="0.7" fill="#fff"/>
<circle cx="324.2" cy="357.1" r="0.8" stroke="#222" stroke-width="0.6" fill="#555"/>
<circle cx="324.2" cy="372.2" r="1.9" stroke="#222" stroke-width="0.7" fill="#fff"/>
<circle cx="324.2" cy="372.2" r="0.8" stroke="#222" stroke-width="0.6" fill="#555"/>
<circle cx="324.2" cy="386.7" r="1.9" stroke="#222" stroke-width="0.7" fill="#fff"/>
<circle cx="324.2" cy="386.7" r="0.8" stroke="#222" stroke-width="0.6" fill="#555"/>
<circle cx="324.2" cy="403.8" r="1.9" stroke="#222" stroke-width="0.7" fill="#fff"/>
<circle cx="324.2" cy="403.8" r="0.8" stroke="#222" stroke-width="0.6" fill="#555"/>
<circle cx="350.5" cy="357.1" r="1.9" stroke="#222" stroke-width="0.7" fill="#fff"/>
<circle cx="350.5" cy="357.1" r="0.8" stroke="#222" stroke-width="0.6" fill="#555"/>
<circle cx="350.5" cy="372.2" r="1.9" stroke="#222" stroke-width="0.7" fill="#fff"/>
<circle cx="350.5" cy="372.2" r="0.8" stroke="#222" stroke-width="0.6" fill="#555"/>
<circle cx="350.5" cy="386.7" r="1.9" stroke="#222" stroke-width="0.7" fill="#fff"/>
<circle cx="350.5" cy="386.7" r="0.8" stroke="#222" stroke-width="0.6" fill="#555"/>
<circle cx="350.5" cy="403.8" r="1.9" stroke="#222" stroke-width="0.7" fill="#fff"/>
<circle cx="350.5" cy="403.8" r="0.8" stroke="#222" stroke-width="0.6" fill="#555"/>
<rect x="328.1" y="372.2" width="5.4" height="5.4" rx="1.2" stroke="#222" stroke-width="0.8" fill="#fff"/>
<circle cx="329.7" cy="373.8" r="0.9" stroke="#222" stroke-width="0.5" fill="none"/>
<circle cx="331.9" cy="376" r="0.9" stroke="#222" stroke-width="0.5" fill="none"/>
<circle cx="329.7" cy="376" r="0.9" stroke="#222" stroke-width="0.5" fill="none"/>
<circle cx="331.9" cy="373.8" r="0.9" stroke="#222" stroke-width="0.5" fill="none"/>
<rect x="341.2" y="387.3" width="5.4" height="5.4" rx="1.2" stroke="#222" stroke-width="0.8" fill="#fff"/>
<circle cx="342.8" cy="388.9" r="0.9" stroke="#222" stroke-width="0.5" fill="none"/>
<circle cx="345" cy="391.1" r="0.9" stroke="#222" stroke-width="0.5" fill="none"/>
<circle cx="342.8" cy="391.1" r="0.9" stroke="#222" stroke-width="0.5" fill="none"/>
<circle cx="345" cy="388.9" r="0.9" stroke="#222" stroke-width="0.5" fill="none"/>
<line x1="338.5" y1="329.5" x2="338.5" y2="416.5" stroke="#444" stroke-width="0.85"/>
<line x1="303" y1="370.5" x2="374" y2="370.5" stroke="#444" stroke-width="0.85"/>
<line x1="353.4" y1="347.5" x2="366.5" y2="347.5" stroke="#222" stroke-width="0.9"/>
<line x1="363.5" y1="347.8" x2="363.5" y2="359.5" stroke="#222" stroke-width="0.85"/>
<line x1="366.5" y1="347.8" x2="366.5" y2="356.8" stroke="#222" stroke-width="1.0"/>
<rect x="352.5" y="359.4" width="11" height="5.3" fill="url(#hp5)" stroke="#222" stroke-width="0.7"/>
<line x1="351.4" y1="364.5" x2="363.9" y2="364.5" stroke="#222" stroke-width="0.85"/>
<line x1="351.4" y1="375.5" x2="363.9" y2="375.5" stroke="#222" stroke-width="0.85"/>
<path d="M352 376 L365.5 376 L365.5 390 L355 390 Q352 387 352 381.2 Z" fill="url(#hp6)" stroke="#222" stroke-width="0.7"/>
<circle cx="356.5" cy="379.7" r="2.6" stroke="#222" stroke-width="0.9" fill="#fff"/>
<circle cx="360.5" cy="384.7" r="2.3" stroke="#222" stroke-width="0.8" fill="#333"/>
<circle cx="354.5" cy="386.7" r="1.6" stroke="#222" stroke-width="0.8" fill="#fff"/>
<line x1="353.4" y1="390.5" x2="366.5" y2="390.5" stroke="#222" stroke-width="0.9"/>
<path d="M363.9 356.8 L366.9 356.8 Q368.7 356.8 368.7 358.8 L368.7 382.8 Q368.7 384.8 366.9 384.8 L363.9 384.8 Z" stroke="#222" stroke-width="0.95" fill="#fff"/>
<rect x="356.1" y="393.5" width="2.1" height="7" rx="0" stroke="#222" stroke-width="0" fill="#222"/>
<rect x="300.6" y="353.3" width="12.4" height="34.5" rx="0" stroke="#222" stroke-width="0.9" fill="#fff"/>
<line x1="313" y1="353.5" x2="318.9" y2="353.5" stroke="#222" stroke-width="0.85"/>
<line x1="313" y1="387.5" x2="318.9" y2="387.5" stroke="#222" stroke-width="0.85"/>
<line x1="300.6" y1="329.5" x2="390.6" y2="329.5" stroke="#222" stroke-width="0.85"/>
<path d="M300.6 329.8 L304.2 328.79 L304.2 330.81 Z" fill="#222" stroke="none"/>
<path d="M390.6 329.8 L387 328.79 L387 330.81 Z" fill="#222" stroke="none"/>
<line x1="300.5" y1="326" x2="300.5" y2="354" stroke="#222" stroke-width="0.85"/>
<line x1="364.5" y1="326" x2="364.5" y2="357" stroke="#222" stroke-width="0.85"/>
<line x1="366.5" y1="326" x2="366.5" y2="356.8" stroke="#222" stroke-width="0.85"/>
<path d="M338 329.8 L341.6 328.79 L341.6 330.81 Z" fill="#222" stroke="none"/>
<path d="M338 329.8 L334.4 328.79 L334.4 330.81 Z" fill="#222" stroke="none"/>
<path d="M364 329.8 L360.4 328.79 L360.4 330.81 Z" fill="#222" stroke="none"/>
<path d="M366.7 329.8 L370.3 328.79 L370.3 330.81 Z" fill="#222" stroke="none"/>
<text x="319" y="328.2" font-size="9.5" font-weight="bold" text-anchor="middle" fill="#111" stroke="#111" stroke-width="0.3" textLength="16" lengthAdjust="spacingAndGlyphs">126</text>
<text x="351.2" y="328.2" font-size="9.5" font-weight="bold" text-anchor="middle" fill="#111" stroke="#111" stroke-width="0.3" textLength="10.5" lengthAdjust="spacingAndGlyphs">90</text>
<text x="382.7" y="328.2" font-size="9.5" font-weight="bold" text-anchor="middle" fill="#111" stroke="#111" stroke-width="0.3" textLength="13" lengthAdjust="spacingAndGlyphs">8.5</text>
<line x1="276.5" y1="353.3" x2="276.5" y2="387.8" stroke="#222" stroke-width="0.85"/>
<path d="M276.4 353.3 L275.39 356.9 L277.41 356.9 Z" fill="#222" stroke="none"/>
<path d="M276.4 387.8 L275.39 384.2 L277.41 384.2 Z" fill="#222" stroke="none"/>
<line x1="274" y1="353.5" x2="300.6" y2="353.5" stroke="#222" stroke-width="0.85"/>
<line x1="274" y1="387.5" x2="300.6" y2="387.5" stroke="#222" stroke-width="0.85"/>
<text x="271.3" y="374.4" font-size="10.06" font-weight="bold" text-anchor="middle" fill="#111" stroke="#111" stroke-width="0.3" textLength="17.5" lengthAdjust="spacingAndGlyphs" transform="rotate(-90 271.3 370.8)">ϕ93</text>
<line x1="499.1" y1="360.5" x2="527.9" y2="360.5" stroke="#777" stroke-width="0.9"/>
<line x1="499.1" y1="363.5" x2="527.9" y2="363.5" stroke="#777" stroke-width="0.9"/>
<line x1="499.1" y1="367.5" x2="527.9" y2="367.5" stroke="#777" stroke-width="0.9"/>
<line x1="499.1" y1="370.5" x2="527.9" y2="370.5" stroke="#777" stroke-width="0.9"/>
<line x1="499.1" y1="374.5" x2="527.9" y2="374.5" stroke="#777" stroke-width="0.9"/>
<line x1="499.1" y1="377.5" x2="527.9" y2="377.5" stroke="#777" stroke-width="0.9"/>
<line x1="499.1" y1="381.5" x2="527.9" y2="381.5" stroke="#777" stroke-width="0.9"/>
<line x1="499.1" y1="384.5" x2="527.9" y2="384.5" stroke="#777" stroke-width="0.9"/>
<line x1="499.1" y1="388.5" x2="527.9" y2="388.5" stroke="#777" stroke-width="0.9"/>
<line x1="499.1" y1="391.5" x2="527.9" y2="391.5" stroke="#777" stroke-width="0.9"/>
<line x1="499.1" y1="395.5" x2="527.9" y2="395.5" stroke="#777" stroke-width="0.9"/>
<line x1="499.1" y1="398.5" x2="527.9" y2="398.5" stroke="#777" stroke-width="0.9"/>
<line x1="499.1" y1="401.5" x2="527.9" y2="401.5" stroke="#777" stroke-width="0.9"/>
<line x1="499.1" y1="405.5" x2="527.9" y2="405.5" stroke="#777" stroke-width="0.9"/>
<rect x="485.9" y="362.3" width="2.3" height="15.7" rx="0" stroke="#222" stroke-width="0.9" fill="none"/>
<path d="M494.6 346.2 L490.3 346.2 Q488.2 346.2 488.2 348.5 L488.2 392 L492 393.5 L492 406 L494.6 407.5" stroke="#222" stroke-width="0.9" fill="none"/>
<path d="M494.6 410.4 L494.6 350.6 Q494.6 345.6 499.6 345.6 L528.2 345.6 Q531.5 346.3 531.7 351.5 L531.7 359.4" stroke="#222" stroke-width="1.3" fill="none"/>
<line x1="494.6" y1="410.4" x2="533.2" y2="410.4" stroke="#222" stroke-width="1.4"/>
<line x1="531.5" y1="392.5" x2="531.5" y2="410.4" stroke="#222" stroke-width="1.0"/>
<rect x="497.8" y="354.4" width="31.7" height="52" rx="2.5" stroke="#222" stroke-width="1.1" fill="none"/>
<rect x="510.9" y="345.6" width="4.8" height="8.8" rx="0" stroke="#222" stroke-width="0.6" fill="#aaa"/>
<circle cx="499.9" cy="357.1" r="1.9" stroke="#222" stroke-width="0.7" fill="#fff"/>
<circle cx="499.9" cy="357.1" r="0.8" stroke="#222" stroke-width="0.6" fill="#555"/>
<circle cx="499.9" cy="372.2" r="1.9" stroke="#222" stroke-width="0.7" fill="#fff"/>
<circle cx="499.9" cy="372.2" r="0.8" stroke="#222" stroke-width="0.6" fill="#555"/>
<circle cx="499.9" cy="386.7" r="1.9" stroke="#222" stroke-width="0.7" fill="#fff"/>
<circle cx="499.9" cy="386.7" r="0.8" stroke="#222" stroke-width="0.6" fill="#555"/>
<circle cx="499.9" cy="403.8" r="1.9" stroke="#222" stroke-width="0.7" fill="#fff"/>
<circle cx="499.9" cy="403.8" r="0.8" stroke="#222" stroke-width="0.6" fill="#555"/>
<circle cx="526.2" cy="357.1" r="1.9" stroke="#222" stroke-width="0.7" fill="#fff"/>
<circle cx="526.2" cy="357.1" r="0.8" stroke="#222" stroke-width="0.6" fill="#555"/>
<circle cx="526.2" cy="372.2" r="1.9" stroke="#222" stroke-width="0.7" fill="#fff"/>
<circle cx="526.2" cy="372.2" r="0.8" stroke="#222" stroke-width="0.6" fill="#555"/>
<circle cx="526.2" cy="386.7" r="1.9" stroke="#222" stroke-width="0.7" fill="#fff"/>
<circle cx="526.2" cy="386.7" r="0.8" stroke="#222" stroke-width="0.6" fill="#555"/>
<circle cx="526.2" cy="403.8" r="1.9" stroke="#222" stroke-width="0.7" fill="#fff"/>
<circle cx="526.2" cy="403.8" r="0.8" stroke="#222" stroke-width="0.6" fill="#555"/>
<rect x="503.8" y="372.2" width="5.4" height="5.4" rx="1.2" stroke="#222" stroke-width="0.8" fill="#fff"/>
<circle cx="505.4" cy="373.8" r="0.9" stroke="#222" stroke-width="0.5" fill="none"/>
<circle cx="507.6" cy="376" r="0.9" stroke="#222" stroke-width="0.5" fill="none"/>
<circle cx="505.4" cy="376" r="0.9" stroke="#222" stroke-width="0.5" fill="none"/>
<circle cx="507.6" cy="373.8" r="0.9" stroke="#222" stroke-width="0.5" fill="none"/>
<rect x="516.9" y="387.3" width="5.4" height="5.4" rx="1.2" stroke="#222" stroke-width="0.8" fill="#fff"/>
<circle cx="518.5" cy="388.9" r="0.9" stroke="#222" stroke-width="0.5" fill="none"/>
<circle cx="520.7" cy="391.1" r="0.9" stroke="#222" stroke-width="0.5" fill="none"/>
<circle cx="518.5" cy="391.1" r="0.9" stroke="#222" stroke-width="0.5" fill="none"/>
<circle cx="520.7" cy="388.9" r="0.9" stroke="#222" stroke-width="0.5" fill="none"/>
<line x1="513.5" y1="329.5" x2="513.5" y2="416.5" stroke="#444" stroke-width="0.85"/>
<line x1="478.7" y1="370.5" x2="549.7" y2="370.5" stroke="#444" stroke-width="0.85"/>
<line x1="529.1" y1="347.5" x2="542.2" y2="347.5" stroke="#222" stroke-width="0.9"/>
<line x1="539.5" y1="347.8" x2="539.5" y2="359.5" stroke="#222" stroke-width="0.85"/>
<line x1="542.5" y1="347.8" x2="542.5" y2="356.8" stroke="#222" stroke-width="1.0"/>
<rect x="528.2" y="359.4" width="11" height="5.3" fill="url(#hp7)" stroke="#222" stroke-width="0.7"/>
<line x1="527.1" y1="364.5" x2="539.6" y2="364.5" stroke="#222" stroke-width="0.85"/>
<line x1="527.1" y1="375.5" x2="539.6" y2="375.5" stroke="#222" stroke-width="0.85"/>
<path d="M527.7 376 L541.2 376 L541.2 390 L530.7 390 Q527.7 387 527.7 381.2 Z" fill="url(#hp8)" stroke="#222" stroke-width="0.7"/>
<circle cx="532.2" cy="379.7" r="2.6" stroke="#222" stroke-width="0.9" fill="#fff"/>
<circle cx="536.2" cy="384.7" r="2.3" stroke="#222" stroke-width="0.8" fill="#333"/>
<circle cx="530.2" cy="386.7" r="1.6" stroke="#222" stroke-width="0.8" fill="#fff"/>
<line x1="529.1" y1="390.5" x2="542.2" y2="390.5" stroke="#222" stroke-width="0.9"/>
<path d="M539.6 356.8 L542.6 356.8 Q544.4 356.8 544.4 358.8 L544.4 382.8 Q544.4 384.8 542.6 384.8 L539.6 384.8 Z" stroke="#222" stroke-width="0.95" fill="#fff"/>
<rect x="531.8" y="393.5" width="2.1" height="7" rx="0" stroke="#222" stroke-width="0" fill="#222"/>
<line x1="485.8" y1="328.5" x2="566" y2="328.5" stroke="#222" stroke-width="0.85"/>
<path d="M485.8 328.1 L489.4 327.09 L489.4 329.11 Z" fill="#222" stroke="none"/>
<path d="M566 328.1 L562.4 327.09 L562.4 329.11 Z" fill="#222" stroke="none"/>
<line x1="485.5" y1="324" x2="485.5" y2="367" stroke="#222" stroke-width="0.85"/>
<line x1="539.5" y1="324" x2="539.5" y2="357" stroke="#222" stroke-width="0.85"/>
<line x1="542.5" y1="324" x2="542.5" y2="356.8" stroke="#222" stroke-width="0.85"/>
<path d="M513.7 328.1 L517.3 327.09 L517.3 329.11 Z" fill="#222" stroke="none"/>
<path d="M513.7 328.1 L510.1 327.09 L510.1 329.11 Z" fill="#222" stroke="none"/>
<path d="M539.3 328.1 L535.7 327.09 L535.7 329.11 Z" fill="#222" stroke="none"/>
<path d="M542.5 328.1 L546.1 327.09 L546.1 329.11 Z" fill="#222" stroke="none"/>
<text x="499.3" y="326.6" font-size="9.5" font-weight="bold" text-anchor="middle" fill="#111" stroke="#111" stroke-width="0.3" textLength="10.5" lengthAdjust="spacingAndGlyphs">90</text>
<text x="526.5" y="326.6" font-size="9.5" font-weight="bold" text-anchor="middle" fill="#111" stroke="#111" stroke-width="0.3" textLength="10.5" lengthAdjust="spacingAndGlyphs">90</text>
<text x="558.6" y="326.6" font-size="9.5" font-weight="bold" text-anchor="middle" fill="#111" stroke="#111" stroke-width="0.3" textLength="13" lengthAdjust="spacingAndGlyphs">8.5</text>
<path d="M519.8 92.3 Q497 94 484 99.5 Q474 105 471.2 116 L471.2 171.3 Q472.5 181 478.8 186.1 Q483 189 489.5 189.4" stroke="#222" stroke-width="0.8" fill="none"/>
<line x1="519.9" y1="92.3" x2="519.9" y2="170" stroke="#222" stroke-width="1.6"/>
<path d="M519.9 170 L515.8 170 L515.8 183.7 L504.3 183.7 L504.3 185.3 L491.1 185.3 L491.1 189.4 L489.5 189.4" stroke="#222" stroke-width="1.2" fill="none"/>
<line x1="473.4" y1="106.7" x2="479.4" y2="112.7" stroke="#222" stroke-width="1.15"/>
<line x1="480.3" y1="106.7" x2="486.3" y2="112.7" stroke="#222" stroke-width="1.15"/>
<line x1="487.2" y1="106.7" x2="493.2" y2="112.7" stroke="#222" stroke-width="1.15"/>
<line x1="494.1" y1="106.7" x2="500.1" y2="112.7" stroke="#222" stroke-width="1.15"/>
<line x1="501" y1="106.7" x2="505.5" y2="111.2" stroke="#222" stroke-width="1.15"/>
<line x1="472.5" y1="145.7" x2="479.4" y2="152.6" stroke="#222" stroke-width="1.15"/>
<line x1="479.1" y1="145.4" x2="486.3" y2="152.6" stroke="#222" stroke-width="1.15"/>
<line x1="486" y1="145.4" x2="493.2" y2="152.6" stroke="#222" stroke-width="1.15"/>
<line x1="492.9" y1="145.4" x2="500.1" y2="152.6" stroke="#222" stroke-width="1.15"/>
<line x1="499.8" y1="145.4" x2="505.5" y2="151.1" stroke="#222" stroke-width="1.15"/>
<path d="M472.5 106.7 L505.5 106.7 L505.5 152.6 L472.5 152.6" stroke="#222" stroke-width="1.5" fill="none"/>
<line x1="472.5" y1="113.5" x2="505.5" y2="113.5" stroke="#222" stroke-width="0.85"/>
<line x1="472.5" y1="145.5" x2="505.5" y2="145.5" stroke="#222" stroke-width="0.85"/>
<line x1="503.5" y1="95" x2="503.5" y2="106.7" stroke="#222" stroke-width="0.85"/>
<line x1="503.5" y1="152.6" x2="503.5" y2="164" stroke="#222" stroke-width="0.85"/>
<line x1="493.5" y1="95.8" x2="493.5" y2="106.7" stroke="#222" stroke-width="0.85"/>
<path d="M484 99.5 L493.5 106.7 M493.5 95.8 L484.5 106.7" stroke="#222" stroke-width="0.6" fill="none"/>
<path d="M496.5 102 L500.5 100 M496.5 102 L500.5 104" stroke="#222" stroke-width="0.7" fill="none"/>
<rect x="472.2" y="153.2" width="23" height="16.5" rx="0" stroke="#222" stroke-width="0.8" fill="none"/>
<line x1="479.5" y1="153.2" x2="479.5" y2="169.7" stroke="#222" stroke-width="0.85"/>
<line x1="479.6" y1="153.5" x2="494.4" y2="168.8" stroke="#222" stroke-width="0.6"/>
<line x1="494.4" y1="153.5" x2="479.6" y2="168.8" stroke="#222" stroke-width="0.6"/>
<rect x="495.2" y="154" width="8.3" height="9.1" rx="0" stroke="#222" stroke-width="0.7" fill="none"/>
<path d="M497 158 L501 160 L497 161" stroke="#222" stroke-width="0.6" fill="none"/>
<line x1="496.9" y1="168.5" x2="501.5" y2="163.9" stroke="#222" stroke-width="1.05"/>
<line x1="500.3" y1="169.7" x2="506.1" y2="163.9" stroke="#222" stroke-width="1.05"/>
<line x1="504.9" y1="169.7" x2="510.7" y2="163.9" stroke="#222" stroke-width="1.05"/>
<line x1="509.5" y1="169.7" x2="515.3" y2="163.9" stroke="#222" stroke-width="1.05"/>
<line x1="514.1" y1="169.7" x2="519.1" y2="164.7" stroke="#222" stroke-width="1.05"/>
<line x1="518.7" y1="169.7" x2="519.1" y2="169.3" stroke="#222" stroke-width="1.05"/>
<line x1="496.9" y1="163.5" x2="519.9" y2="163.5" stroke="#222" stroke-width="0.85"/>
<line x1="473" y1="178.5" x2="478.5" y2="184" stroke="#222" stroke-width="1.0"/>
<line x1="473" y1="173" x2="484" y2="184" stroke="#222" stroke-width="1.0"/>
<line x1="475.2" y1="169.7" x2="489.5" y2="184" stroke="#222" stroke-width="1.0"/>
<line x1="480.7" y1="169.7" x2="495" y2="184" stroke="#222" stroke-width="1.0"/>
<line x1="486.2" y1="169.7" x2="500.5" y2="184" stroke="#222" stroke-width="1.0"/>
<line x1="491.7" y1="169.7" x2="506" y2="184" stroke="#222" stroke-width="1.0"/>
<line x1="497.2" y1="169.7" x2="511.5" y2="184" stroke="#222" stroke-width="1.0"/>
<line x1="502.7" y1="169.7" x2="515.8" y2="182.8" stroke="#222" stroke-width="1.0"/>
<line x1="508.2" y1="169.7" x2="515.8" y2="177.3" stroke="#222" stroke-width="1.0"/>
<line x1="513.7" y1="169.7" x2="515.8" y2="171.8" stroke="#222" stroke-width="1.0"/>
<rect x="483.7" y="173.8" width="19.8" height="6.6" rx="0" stroke="#222" stroke-width="0.8" fill="#fff"/>
<line x1="484.5" y1="175.5" x2="503" y2="175.5" stroke="#666" stroke-width="0.85"/>
<line x1="484.5" y1="178.5" x2="503" y2="178.5" stroke="#666" stroke-width="0.85"/>
<path d="M478 177 L483.7 173.8 L483.7 180.4 Z" stroke="#222" stroke-width="0.7" fill="#fff"/>
<line x1="473" y1="169.5" x2="515.8" y2="169.5" stroke="#222" stroke-width="0.85"/>
<line x1="460" y1="129.6" x2="524.5" y2="129.6" stroke="#222" stroke-width="0.5" stroke-dasharray="5 1.5 1 1.5"/>
<line x1="498.2" y1="124.5" x2="539" y2="124.5" stroke="#222" stroke-width="0.85"/>
<line x1="514.5" y1="121" x2="514.5" y2="170" stroke="#222" stroke-width="0.85"/>
<path d="M514 124.5 L510.4 123.49 L510.4 125.51 Z" fill="#222" stroke="none"/>
<path d="M519.9 124.5 L523.5 123.49 L523.5 125.51 Z" fill="#222" stroke="none"/>
<text x="530.55" y="122.9" font-size="9.08" font-weight="bold" style="font-family:&quot;Liberation Sans&quot;" text-anchor="middle" fill="#111" textLength="13.7" lengthAdjust="spacingAndGlyphs" stroke="#111" stroke-width="0.3">8.5</text>
<line x1="545.5" y1="135" x2="545.5" y2="188.2" stroke="#222" stroke-width="0.85"/>
<path d="M545.9 170.4 L544.89 166.8 L546.91 166.8 Z" fill="#222" stroke="none"/>
<path d="M545.9 182.9 L544.89 186.5 L546.91 186.5 Z" fill="#222" stroke="none"/>
<text x="540.1" y="151.6" font-size="10.34" font-weight="bold" text-anchor="middle" fill="#111" stroke="#111" stroke-width="0.3" textLength="26.8" lengthAdjust="spacingAndGlyphs" transform="rotate(-90 540.1 147.9)">ϕ13.5</text>
<line x1="514.8" y1="170.5" x2="568" y2="170.5" stroke="#222" stroke-width="0.85"/>
<line x1="514.8" y1="172.5" x2="547" y2="172.5" stroke="#222" stroke-width="0.85"/>
<line x1="503" y1="182.5" x2="547" y2="182.5" stroke="#222" stroke-width="0.85"/>
<line x1="503" y1="184.5" x2="591.4" y2="184.5" stroke="#222" stroke-width="0.85"/>
<line x1="566.5" y1="100.3" x2="566.5" y2="169.6" stroke="#222" stroke-width="0.85"/>
<path d="M566.4 169.6 L565.39 166 L567.41 166 Z" fill="#222" stroke="none"/>
<text x="557.4" y="118.8" font-size="10.61" font-weight="bold" text-anchor="middle" fill="#111" stroke="#111" stroke-width="0.3" textLength="23.9" lengthAdjust="spacingAndGlyphs" transform="rotate(-90 557.4 115)">ϕ105</text>
<text x="561.9" y="101.5" font-size="6.7" font-weight="bold" text-anchor="middle" fill="#111" stroke="#111" stroke-width="0.3" textLength="6" lengthAdjust="spacingAndGlyphs" transform="rotate(-90 561.9 99.1)">j6</text>
<line x1="590.5" y1="94.7" x2="590.5" y2="184.1" stroke="#222" stroke-width="0.85"/>
<path d="M590.1 184.1 L589.09 180.5 L591.11 180.5 Z" fill="#222" stroke="none"/>
<text x="583.4" y="111.7" font-size="10.34" font-weight="bold" text-anchor="middle" fill="#111" stroke="#111" stroke-width="0.3" textLength="23.4" lengthAdjust="spacingAndGlyphs" transform="rotate(-90 583.4 108)">ϕ155</text>
<line x1="456.6" y1="173.5" x2="520" y2="173.5" stroke="#222" stroke-width="0.85"/>
<line x1="456.6" y1="181.5" x2="520" y2="181.5" stroke="#222" stroke-width="0.85"/>
<line x1="459.5" y1="166.8" x2="459.5" y2="210.5" stroke="#222" stroke-width="0.85"/>
<path d="M459.1 173.5 L458.09 169.9 L460.11 169.9 Z" fill="#222" stroke="none"/>
<path d="M459.1 181.7 L458.09 185.3 L460.11 185.3 Z" fill="#222" stroke="none"/>
<text x="453.6" y="203.5" font-size="10.61" font-weight="bold" text-anchor="middle" fill="#111" stroke="#111" stroke-width="0.3" textLength="18.4" lengthAdjust="spacingAndGlyphs" transform="rotate(-90 453.6 199.7)">M12</text>
<line x1="487.5" y1="189.4" x2="487.5" y2="229" stroke="#222" stroke-width="0.85"/>
<line x1="504.5" y1="185.3" x2="504.5" y2="229" stroke="#222" stroke-width="0.85"/>
<line x1="514.5" y1="184" x2="514.5" y2="229" stroke="#222" stroke-width="0.85"/>
<line x1="519.5" y1="170" x2="519.5" y2="205" stroke="#222" stroke-width="0.85"/>
<line x1="507.6" y1="202.5" x2="544.6" y2="202.5" stroke="#222" stroke-width="0.85"/>
<path d="M514.1 202.9 L510.5 201.89 L510.5 203.91 Z" fill="#222" stroke="none"/>
<path d="M519.9 202.9 L523.5 201.89 L523.5 203.91 Z" fill="#222" stroke="none"/>
<text x="535.95" y="200.9" font-size="9.22" font-weight="bold" style="font-family:&quot;Liberation Sans&quot;" text-anchor="middle" fill="#111" textLength="13.9" lengthAdjust="spacingAndGlyphs" stroke="#111" stroke-width="0.3">3.5</text>
<line x1="487.8" y1="225.5" x2="540" y2="225.5" stroke="#222" stroke-width="0.85"/>
<path d="M487.8 225.6 L491.4 224.59 L491.4 226.61 Z" fill="#222" stroke="none"/>
<path d="M504.3 225.6 L500.7 224.59 L500.7 226.61 Z" fill="#222" stroke="none"/>
<path d="M514.1 225.6 L517.7 224.59 L517.7 226.61 Z" fill="#222" stroke="none"/>
<text x="495.65" y="224" font-size="9.22" font-weight="bold" style="font-family:&quot;Liberation Sans&quot;" text-anchor="middle" fill="#111" textLength="10.7" lengthAdjust="spacingAndGlyphs" stroke="#111" stroke-width="0.3">20</text>
<text x="528.95" y="224" font-size="9.22" font-weight="bold" style="font-family:&quot;Liberation Sans&quot;" text-anchor="middle" fill="#111" textLength="9.9" lengthAdjust="spacingAndGlyphs" stroke="#111" stroke-width="0.3">12</text>
<path d="M54.5 507 A12.3 12.3 0 1 0 54.5 531.6 A12.3 12.3 0 1 0 54.5 507 Z M54.5 511.4 A7.9 7.9 0 1 0 54.5 527.2 A7.9 7.9 0 1 0 54.5 511.4 Z" fill="url(#hp9)" fill-rule="evenodd" stroke="none"/>
<circle cx="54.5" cy="519.3" r="12.3" stroke="#222" stroke-width="1.3" fill="none"/>
<circle cx="54.5" cy="519.3" r="7.9" stroke="#222" stroke-width="1.2" fill="none"/>
<rect x="52.6" y="506.5" width="3.9" height="4.6" rx="0" stroke="#222" stroke-width="0" fill="#fff"/>
<line x1="52.5" y1="506.5" x2="52.5" y2="511.2" stroke="#222" stroke-width="0.85"/>
<line x1="56.5" y1="506.5" x2="56.5" y2="511.2" stroke="#222" stroke-width="0.85"/>
<line x1="39.5" y1="519.3" x2="69" y2="519.3" stroke="#222" stroke-width="0.7" stroke-dasharray="4 1.5 1.5 1.5"/>
<line x1="54.5" y1="505.7" x2="54.5" y2="534" stroke="#222" stroke-width="0.7" stroke-dasharray="4 1.5 1.5 1.5"/>
<line x1="32.3" y1="493.5" x2="62.9" y2="493.5" stroke="#222" stroke-width="0.85"/>
<path d="M52.6 493.1 L49 492.09 L49 494.11 Z" fill="#222" stroke="none"/>
<path d="M56.5 493.1 L60.1 492.09 L60.1 494.11 Z" fill="#222" stroke="none"/>
<line x1="52.5" y1="491" x2="52.5" y2="507" stroke="#222" stroke-width="0.85"/>
<line x1="56.5" y1="491" x2="56.5" y2="507" stroke="#222" stroke-width="0.85"/>
<text x="38.45" y="491.9" font-size="9.08" font-weight="bold" style="font-family:&quot;Liberation Sans&quot;" text-anchor="middle" fill="#111" textLength="10.5" lengthAdjust="spacingAndGlyphs" stroke="#111" stroke-width="0.3">12</text>
<line x1="22.5" y1="509.5" x2="54" y2="509.5" stroke="#222" stroke-width="0.85"/>
<line x1="22.5" y1="527.5" x2="54" y2="527.5" stroke="#222" stroke-width="0.85"/>
<line x1="24.5" y1="503.2" x2="24.5" y2="556" stroke="#222" stroke-width="0.85"/>
<path d="M24.7 509.5 L23.69 505.9 L25.71 505.9 Z" fill="#222" stroke="none"/>
<path d="M24.7 527.6 L23.69 531.2 L25.71 531.2 Z" fill="#222" stroke="none"/>
<text x="19.4" y="549.1" font-size="10.06" font-weight="bold" text-anchor="middle" fill="#111" stroke="#111" stroke-width="0.3" textLength="19.2" lengthAdjust="spacingAndGlyphs" transform="rotate(-90 19.4 545.5)">43.3</text>
<path d="M16.6 556.5 L86.5 556.5 L76.9 581.9 L7.9 581.9 Z" stroke="#222" stroke-width="0.8" fill="#fff"/>
<text x="49.4" y="567.9" font-size="9.78" font-weight="bold" style="font-family:&quot;Liberation Sans&quot;" text-anchor="middle" fill="#111" textLength="63.8" lengthAdjust="spacingAndGlyphs" stroke="#111" stroke-width="0.3">GB/T5783-2000</text>
<text x="46.75" y="577" font-size="9.08" font-weight="bold" style="font-family:&quot;Liberation Sans&quot;" text-anchor="middle" fill="#111" textLength="46.3" lengthAdjust="spacingAndGlyphs" stroke="#111" stroke-width="0.3">M16x40-8.8</text>
<path d="M80.5 569.7 L90.5 569.7 L95.3 533" stroke="#222" stroke-width="0.6" fill="none"/>
<line x1="91.3" y1="483.5" x2="161" y2="483.5" stroke="#222" stroke-width="0.85"/>
<path d="M91.3 483.7 L94.9 482.69 L94.9 484.71 Z" fill="#222" stroke="none"/>
<path d="M161 483.7 L157.4 482.69 L157.4 484.71 Z" fill="#222" stroke="none"/>
<path d="M125.5 483.7 L129.1 482.69 L129.1 484.71 Z" fill="#222" stroke="none"/>
<path d="M125.5 483.7 L121.9 482.69 L121.9 484.71 Z" fill="#222" stroke="none"/>
<line x1="91.5" y1="481" x2="91.5" y2="508" stroke="#222" stroke-width="0.85"/>
<line x1="161.5" y1="481" x2="161.5" y2="530" stroke="#222" stroke-width="0.85"/>
<line x1="125.5" y1="481" x2="125.5" y2="524" stroke="#222" stroke-width="0.85"/>
<text x="108.2" y="482.4" font-size="9.08" font-weight="bold" style="font-family:&quot;Liberation Sans&quot;" text-anchor="middle" fill="#111" textLength="10.8" lengthAdjust="spacingAndGlyphs" stroke="#111" stroke-width="0.3">90</text>
<text x="142.75" y="482.4" font-size="9.08" font-weight="bold" style="font-family:&quot;Liberation Sans&quot;" text-anchor="middle" fill="#111" textLength="10.9" lengthAdjust="spacingAndGlyphs" stroke="#111" stroke-width="0.3">90</text>
<line x1="92.7" y1="509.8" x2="95.6" y2="506.9" stroke="#222" stroke-width="1.1"/>
<line x1="97" y1="509.8" x2="99.9" y2="506.9" stroke="#222" stroke-width="1.1"/>
<line x1="101.3" y1="509.8" x2="104.2" y2="506.9" stroke="#222" stroke-width="1.1"/>
<line x1="105.6" y1="509.8" x2="108.5" y2="506.9" stroke="#222" stroke-width="1.1"/>
<line x1="109.9" y1="509.8" x2="112.8" y2="506.9" stroke="#222" stroke-width="1.1"/>
<line x1="114.2" y1="509.8" x2="117.1" y2="506.9" stroke="#222" stroke-width="1.1"/>
<line x1="118.5" y1="509.8" x2="121.4" y2="506.9" stroke="#222" stroke-width="1.1"/>
<line x1="122.8" y1="509.8" x2="125.7" y2="506.9" stroke="#222" stroke-width="1.1"/>
<line x1="127.1" y1="509.8" x2="130" y2="506.9" stroke="#222" stroke-width="1.1"/>
<line x1="131.4" y1="509.8" x2="134.3" y2="506.9" stroke="#222" stroke-width="1.1"/>
<line x1="135.7" y1="509.8" x2="138.6" y2="506.9" stroke="#222" stroke-width="1.1"/>
<line x1="140" y1="509.8" x2="142.9" y2="506.9" stroke="#222" stroke-width="1.1"/>
<line x1="144.3" y1="509.8" x2="147.2" y2="506.9" stroke="#222" stroke-width="1.1"/>
<line x1="148.6" y1="509.8" x2="151.5" y2="506.9" stroke="#222" stroke-width="1.1"/>
<line x1="152.9" y1="509.8" x2="155.8" y2="506.9" stroke="#222" stroke-width="1.1"/>
<line x1="157.2" y1="509.8" x2="160.1" y2="506.9" stroke="#222" stroke-width="1.1"/>
<line x1="110.6" y1="506.9" x2="113" y2="504.5" stroke="#222" stroke-width="1.1"/>
<line x1="114.9" y1="506.9" x2="117.3" y2="504.5" stroke="#222" stroke-width="1.1"/>
<line x1="119.2" y1="506.9" x2="121.6" y2="504.5" stroke="#222" stroke-width="1.1"/>
<line x1="123.5" y1="506.9" x2="124.5" y2="505.9" stroke="#222" stroke-width="1.1"/>
<line x1="93" y1="530" x2="95.6" y2="527.4" stroke="#222" stroke-width="1.1"/>
<line x1="97.3" y1="530" x2="99.9" y2="527.4" stroke="#222" stroke-width="1.1"/>
<line x1="101.6" y1="530" x2="104.2" y2="527.4" stroke="#222" stroke-width="1.1"/>
<line x1="105.9" y1="530" x2="108.5" y2="527.4" stroke="#222" stroke-width="1.1"/>
<line x1="110.2" y1="530" x2="112.8" y2="527.4" stroke="#222" stroke-width="1.1"/>
<line x1="114.5" y1="530" x2="117.1" y2="527.4" stroke="#222" stroke-width="1.1"/>
<line x1="118.8" y1="530" x2="121.4" y2="527.4" stroke="#222" stroke-width="1.1"/>
<line x1="123.1" y1="530" x2="125.7" y2="527.4" stroke="#222" stroke-width="1.1"/>
<line x1="127.4" y1="530" x2="130" y2="527.4" stroke="#222" stroke-width="1.1"/>
<line x1="131.7" y1="530" x2="134.3" y2="527.4" stroke="#222" stroke-width="1.1"/>
<line x1="136" y1="530" x2="138.6" y2="527.4" stroke="#222" stroke-width="1.1"/>
<line x1="140.3" y1="530" x2="142.9" y2="527.4" stroke="#222" stroke-width="1.1"/>
<line x1="144.6" y1="530" x2="147.2" y2="527.4" stroke="#222" stroke-width="1.1"/>
<line x1="148.9" y1="530" x2="151.5" y2="527.4" stroke="#222" stroke-width="1.1"/>
<line x1="153.2" y1="530" x2="155.8" y2="527.4" stroke="#222" stroke-width="1.1"/>
<line x1="157.5" y1="530" x2="160.1" y2="527.4" stroke="#222" stroke-width="1.1"/>
<line x1="110.6" y1="532.4" x2="113" y2="530" stroke="#222" stroke-width="1.1"/>
<line x1="114.9" y1="532.4" x2="117.3" y2="530" stroke="#222" stroke-width="1.1"/>
<line x1="119.2" y1="532.4" x2="121.6" y2="530" stroke="#222" stroke-width="1.1"/>
<line x1="123.5" y1="532.4" x2="124.5" y2="531.4" stroke="#222" stroke-width="1.1"/>
<path d="M91.3 506.9 L108.7 506.9 L108.7 504.5 L124.5 504.5 L124.5 506.9 L161 506.9" stroke="#222" stroke-width="1.0" fill="none"/>
<path d="M91.3 530 L108.7 530 L108.7 532.4 L124.5 532.4 L124.5 530 L161 530" stroke="#222" stroke-width="1.0" fill="none"/>
<line x1="100" y1="509.5" x2="161" y2="509.5" stroke="#222" stroke-width="0.9"/>
<line x1="100" y1="527.5" x2="161" y2="527.5" stroke="#222" stroke-width="0.9"/>
<line x1="150.5" y1="509.8" x2="150.5" y2="527.4" stroke="#222" stroke-width="0.9"/>
<rect x="89" y="508" width="7.5" height="21.5" rx="0" stroke="#222" stroke-width="0" fill="#fff"/>
<line x1="89" y1="526.8" x2="91.7" y2="529.5" stroke="#222" stroke-width="1.1"/>
<line x1="89" y1="524.1" x2="94.4" y2="529.5" stroke="#222" stroke-width="1.1"/>
<line x1="89" y1="521.4" x2="96.5" y2="528.9" stroke="#222" stroke-width="1.1"/>
<line x1="89" y1="518.7" x2="96.5" y2="526.2" stroke="#222" stroke-width="1.1"/>
<line x1="89" y1="516" x2="96.5" y2="523.5" stroke="#222" stroke-width="1.1"/>
<line x1="89" y1="513.3" x2="96.5" y2="520.8" stroke="#222" stroke-width="1.1"/>
<line x1="89" y1="510.6" x2="96.5" y2="518.1" stroke="#222" stroke-width="1.1"/>
<line x1="89.1" y1="508" x2="96.5" y2="515.4" stroke="#222" stroke-width="1.1"/>
<line x1="91.8" y1="508" x2="96.5" y2="512.7" stroke="#222" stroke-width="1.1"/>
<line x1="94.5" y1="508" x2="96.5" y2="510" stroke="#222" stroke-width="1.1"/>
<rect x="89" y="508" width="7.5" height="21.5" rx="0" stroke="#222" stroke-width="1.2" fill="none"/>
<rect x="96.5" y="510.4" width="3.7" height="17" rx="0" stroke="#222" stroke-width="0" fill="url(#hp10)"/>
<rect x="99.3" y="510.4" width="1.8" height="17.2" rx="0" stroke="#222" stroke-width="0" fill="#222"/>
<rect x="100.6" y="515.5" width="11.4" height="5.8" rx="0" stroke="#222" stroke-width="1.2" fill="#fff"/>
<line x1="98.8" y1="518.2" x2="170" y2="518.2" stroke="#222" stroke-width="0.45" stroke-dasharray="6 1.5 1 1.5"/>
<line x1="161" y1="507.5" x2="205" y2="507.5" stroke="#222" stroke-width="0.85"/>
<line x1="161" y1="529.5" x2="205" y2="529.5" stroke="#222" stroke-width="0.85"/>
<line x1="202.5" y1="507" x2="202.5" y2="529.1" stroke="#222" stroke-width="0.85"/>
<path d="M202.4 507 L201.39 510.6 L203.41 510.6 Z" fill="#222" stroke="none"/>
<path d="M202.4 529.1 L201.39 525.5 L203.41 525.5 Z" fill="#222" stroke="none"/>
<text x="196" y="520.2" font-size="9.5" font-weight="bold" text-anchor="middle" fill="#111" stroke="#111" stroke-width="0.3" textLength="16.5" lengthAdjust="spacingAndGlyphs" transform="rotate(-90 196 516.8)">ϕ55</text>
<line x1="161" y1="526.5" x2="186" y2="526.5" stroke="#222" stroke-width="0.85"/>
<line x1="183.5" y1="509.7" x2="183.5" y2="566.8" stroke="#222" stroke-width="0.85"/>
<path d="M183.3 526.5 L182.29 530.1 L184.31 530.1 Z" fill="#222" stroke="none"/>
<text x="177.4" y="559.2" font-size="10.61" font-weight="bold" text-anchor="middle" fill="#111" stroke="#111" stroke-width="0.3" textLength="18" lengthAdjust="spacingAndGlyphs" transform="rotate(-90 177.4 555.4)">ϕ40</text>
<text x="173.2" y="545" font-size="6.7" font-weight="bold" text-anchor="middle" fill="#111" stroke="#111" stroke-width="0.3" textLength="6.6" lengthAdjust="spacingAndGlyphs" transform="rotate(-90 173.2 542.6)">H7</text>
<line x1="93.9" y1="552.5" x2="134.3" y2="552.5" stroke="#222" stroke-width="0.85"/>
<path d="M99.8 552.4 L96.2 551.39 L96.2 553.41 Z" fill="#222" stroke="none"/>
<path d="M111.6 552.4 L115.2 551.39 L115.2 553.41 Z" fill="#222" stroke="none"/>
<line x1="99.5" y1="530" x2="99.5" y2="556" stroke="#222" stroke-width="0.85"/>
<line x1="111.5" y1="521" x2="111.5" y2="556" stroke="#222" stroke-width="0.85"/>
<text x="127.95" y="550.8" font-size="9.5" font-weight="bold" style="font-family:&quot;Liberation Sans&quot;" text-anchor="middle" fill="#111" textLength="10.9" lengthAdjust="spacingAndGlyphs" stroke="#111" stroke-width="0.3">29</text>
<line x1="100.8" y1="568.5" x2="161" y2="568.5" stroke="#222" stroke-width="0.85"/>
<path d="M100.8 568 L104.4 566.99 L104.4 569.01 Z" fill="#222" stroke="none"/>
<path d="M161 568 L157.4 566.99 L157.4 569.01 Z" fill="#222" stroke="none"/>
<line x1="100.5" y1="530" x2="100.5" y2="571" stroke="#222" stroke-width="0.85"/>
<line x1="161.5" y1="530" x2="161.5" y2="571" stroke="#222" stroke-width="0.85"/>
<text x="131.4" y="566.6" font-size="9.5" font-weight="bold" style="font-family:&quot;Liberation Sans&quot;" text-anchor="middle" fill="#111" textLength="15.8" lengthAdjust="spacingAndGlyphs" stroke="#111" stroke-width="0.3">156</text>
<line x1="254.9" y1="472.5" x2="324.5" y2="472.5" stroke="#222" stroke-width="0.85"/>
<path d="M254.9 472.7 L258.5 471.69 L258.5 473.71 Z" fill="#222" stroke="none"/>
<path d="M324.5 472.7 L320.9 471.69 L320.9 473.71 Z" fill="#222" stroke="none"/>
<path d="M289.8 472.7 L293.4 471.69 L293.4 473.71 Z" fill="#222" stroke="none"/>
<path d="M289.8 472.7 L286.2 471.69 L286.2 473.71 Z" fill="#222" stroke="none"/>
<line x1="254.5" y1="468" x2="254.5" y2="607" stroke="#222" stroke-width="0.85"/>
<line x1="289.5" y1="470" x2="289.5" y2="521.5" stroke="#222" stroke-width="0.85"/>
<line x1="324.5" y1="468" x2="324.5" y2="610" stroke="#222" stroke-width="0.85"/>
<text x="272.05" y="470.9" font-size="9.22" font-weight="bold" style="font-family:&quot;Liberation Sans&quot;" text-anchor="middle" fill="#111" textLength="16.3" lengthAdjust="spacingAndGlyphs" stroke="#111" stroke-width="0.3">118</text>
<text x="307.35" y="470.9" font-size="9.22" font-weight="bold" style="font-family:&quot;Liberation Sans&quot;" text-anchor="middle" fill="#111" textLength="10.9" lengthAdjust="spacingAndGlyphs" stroke="#111" stroke-width="0.3">90</text>
<line x1="247.6" y1="494.5" x2="288.3" y2="494.5" stroke="#222" stroke-width="0.85"/>
<path d="M255.8 494 L252.2 492.99 L252.2 495.01 Z" fill="#222" stroke="none"/>
<path d="M267 494 L270.6 492.99 L270.6 495.01 Z" fill="#222" stroke="none"/>
<line x1="267.5" y1="490" x2="267.5" y2="526" stroke="#222" stroke-width="0.85"/>
<text x="281.1" y="492.2" font-size="9.64" font-weight="bold" style="font-family:&quot;Liberation Sans&quot;" text-anchor="middle" fill="#111" textLength="10.8" lengthAdjust="spacingAndGlyphs" stroke="#111" stroke-width="0.3">38</text>
<line x1="312.8" y1="493.5" x2="324.5" y2="493.5" stroke="#222" stroke-width="0.85"/>
<path d="M312.8 493.5 L316.4 492.49 L316.4 494.51 Z" fill="#222" stroke="none"/>
<path d="M324.5 493.5 L320.9 492.49 L320.9 494.51 Z" fill="#222" stroke="none"/>
<line x1="313.5" y1="490" x2="313.5" y2="525.1" stroke="#222" stroke-width="0.85"/>
<text x="319" y="491.6" font-size="8.66" font-weight="bold" style="font-family:&quot;Liberation Sans&quot;" text-anchor="middle" fill="#111" textLength="11" lengthAdjust="spacingAndGlyphs" stroke="#111" stroke-width="0.3">20</text>
<path d="M255.8 505.2 L272.4 505.2 L272.4 503.1 L288.7 503.1 L288.7 505.2 L324.5 505.2 L324.5 508.9 L255.8 508.9 Z" fill="url(#hp11)" stroke="#222" stroke-width="0.8"/>
<path d="M255.8 525.5 L324.5 525.5 L324.5 528.4 L288.7 528.4 L288.7 531.5 L272.4 531.5 L272.4 529.1 L255.8 529.1 Z" fill="url(#hp11)" stroke="#222" stroke-width="0.8"/>
<line x1="236.8" y1="508.5" x2="355" y2="508.5" stroke="#222" stroke-width="0.85"/>
<line x1="236.8" y1="525.5" x2="355" y2="525.5" stroke="#222" stroke-width="0.85"/>
<line x1="324.5" y1="505.5" x2="372" y2="505.5" stroke="#222" stroke-width="0.85"/>
<line x1="324.5" y1="528.5" x2="372" y2="528.5" stroke="#222" stroke-width="0.85"/>
<rect x="255.8" y="497.1" width="9.9" height="8" rx="0" stroke="#222" stroke-width="1.1" fill="#666"/>
<rect x="255.8" y="497.1" width="9.9" height="8" rx="0" stroke="#222" stroke-width="0" fill="url(#hp12)"/>
<rect x="255.8" y="497.1" width="9.9" height="8" rx="0" stroke="#222" stroke-width="0" fill="url(#hp13)"/>
<rect x="255.8" y="529.7" width="9.9" height="7.2" rx="0" stroke="#222" stroke-width="1.1" fill="#666"/>
<rect x="255.8" y="529.7" width="9.9" height="7.2" rx="0" stroke="#222" stroke-width="0" fill="url(#hp12)"/>
<rect x="255.8" y="529.7" width="9.9" height="7.2" rx="0" stroke="#222" stroke-width="0" fill="url(#hp13)"/>
<line x1="250.3" y1="517.3" x2="326" y2="517.3" stroke="#222" stroke-width="0.5" stroke-dasharray="7 2 1.5 2"/>
<line x1="237.5" y1="469" x2="237.5" y2="536" stroke="#222" stroke-width="0.85"/>
<path d="M237.3 508.9 L236.29 505.3 L238.31 505.3 Z" fill="#222" stroke="none"/>
<path d="M237.3 525.5 L236.29 529.1 L238.31 529.1 Z" fill="#222" stroke="none"/>
<text x="231.5" y="491.2" font-size="10.34" font-weight="bold" text-anchor="middle" fill="#111" stroke="#111" stroke-width="0.3" textLength="16.5" lengthAdjust="spacingAndGlyphs" transform="rotate(-90 231.5 487.5)">ϕ40</text>
<text x="227" y="477.3" font-size="6.42" font-weight="bold" text-anchor="middle" fill="#111" stroke="#111" stroke-width="0.3" textLength="7" lengthAdjust="spacingAndGlyphs" transform="rotate(-90 227 475)">H7</text>
<line x1="352.5" y1="468.6" x2="352.5" y2="534.3" stroke="#222" stroke-width="0.85"/>
<path d="M352.8 508.9 L351.79 505.3 L353.81 505.3 Z" fill="#222" stroke="none"/>
<path d="M352.8 525.5 L351.79 529.1 L353.81 529.1 Z" fill="#222" stroke="none"/>
<text x="347.4" y="492.1" font-size="10.61" font-weight="bold" text-anchor="middle" fill="#111" stroke="#111" stroke-width="0.3" textLength="17" lengthAdjust="spacingAndGlyphs" transform="rotate(-90 347.4 488.3)">ϕ40</text>
<text x="346.1" y="476.7" font-size="6.42" font-weight="bold" text-anchor="middle" fill="#111" stroke="#111" stroke-width="0.3" textLength="6.6" lengthAdjust="spacingAndGlyphs" transform="rotate(-90 346.1 474.4)">H7</text>
<line x1="371.5" y1="505.4" x2="371.5" y2="528.4" stroke="#222" stroke-width="0.85"/>
<path d="M371.2 505.4 L370.19 509 L372.21 509 Z" fill="#222" stroke="none"/>
<path d="M371.2 528.4 L370.19 524.8 L372.21 524.8 Z" fill="#222" stroke="none"/>
<text x="366.6" y="518.8" font-size="9.78" font-weight="bold" text-anchor="middle" fill="#111" stroke="#111" stroke-width="0.3" textLength="17" lengthAdjust="spacingAndGlyphs" transform="rotate(-90 366.6 515.3)">ϕ55</text>
<line x1="234.2" y1="574.5" x2="274.2" y2="574.5" stroke="#222" stroke-width="0.85"/>
<path d="M255.7 574 L252.1 572.99 L252.1 575.01 Z" fill="#222" stroke="none"/>
<path d="M268 574 L271.6 572.99 L271.6 575.01 Z" fill="#222" stroke="none"/>
<text x="240.9" y="572.8" font-size="10.06" font-weight="bold" style="font-family:&quot;Liberation Sans&quot;" text-anchor="middle" fill="#111" textLength="12.4" lengthAdjust="spacingAndGlyphs" stroke="#111" stroke-width="0.3">43</text>
<line x1="292.7" y1="573.5" x2="331" y2="573.5" stroke="#222" stroke-width="0.85"/>
<path d="M313.7 573.3 L310.1 572.29 L310.1 574.31 Z" fill="#222" stroke="none"/>
<path d="M324.8 573.3 L328.4 572.29 L328.4 574.31 Z" fill="#222" stroke="none"/>
<text x="299.25" y="572.8" font-size="10.06" font-weight="bold" style="font-family:&quot;Liberation Sans&quot;" text-anchor="middle" fill="#111" textLength="11.5" lengthAdjust="spacingAndGlyphs" stroke="#111" stroke-width="0.3">25</text>
<line x1="268.5" y1="571" x2="268.5" y2="606.3" stroke="#222" stroke-width="0.85"/>
<line x1="313.5" y1="571" x2="313.5" y2="606" stroke="#222" stroke-width="0.85"/>
<rect x="255.7" y="588.8" width="69.1" height="17.5" rx="0" stroke="#222" stroke-width="0.9" fill="none"/>
<line x1="228.6" y1="588.5" x2="358.1" y2="588.5" stroke="#222" stroke-width="0.85"/>
<line x1="228.6" y1="606.5" x2="358.1" y2="606.5" stroke="#222" stroke-width="0.85"/>
<path d="M324.8 585.1 L339 585.1 Q342.5 589 340.5 593 Q337.5 598 340.5 603 Q342.5 607 339 609.8 L324.8 609.8 Z" stroke="#222" stroke-width="0.9" fill="#fff"/>
<path d="M340.5 593 Q344 598 340.5 603" stroke="#222" stroke-width="0.7" fill="none"/>
<line x1="253.2" y1="597.7" x2="345.8" y2="597.7" stroke="#222" stroke-width="0.5" stroke-dasharray="7 2 1.5 2"/>
<line x1="229.5" y1="579.7" x2="229.5" y2="645" stroke="#222" stroke-width="0.85"/>
<path d="M229.3 588.8 L228.29 585.2 L230.31 585.2 Z" fill="#222" stroke="none"/>
<path d="M229.3 606.3 L228.29 609.9 L230.31 609.9 Z" fill="#222" stroke="none"/>
<text x="224.7" y="638.3" font-size="10.34" font-weight="bold" text-anchor="middle" fill="#111" stroke="#111" stroke-width="0.3" textLength="17" lengthAdjust="spacingAndGlyphs" transform="rotate(-90 224.7 634.6)">ϕ40</text>
<text x="227" y="623.9" font-size="7.26" font-weight="bold" text-anchor="middle" fill="#111" stroke="#111" stroke-width="0.3" textLength="7" lengthAdjust="spacingAndGlyphs" transform="rotate(-90 227 621.3)">h6</text>
<line x1="357.5" y1="579.7" x2="357.5" y2="645" stroke="#222" stroke-width="0.85"/>
<path d="M357.4 588.8 L356.39 585.2 L358.41 585.2 Z" fill="#222" stroke="none"/>
<path d="M357.4 606.3 L356.39 609.9 L358.41 609.9 Z" fill="#222" stroke="none"/>
<text x="351.5" y="637.7" font-size="10.61" font-weight="bold" text-anchor="middle" fill="#111" stroke="#111" stroke-width="0.3" textLength="18" lengthAdjust="spacingAndGlyphs" transform="rotate(-90 351.5 633.9)">ϕ40</text>
<text x="353.3" y="623" font-size="6.98" font-weight="bold" text-anchor="middle" fill="#111" stroke="#111" stroke-width="0.3" textLength="7" lengthAdjust="spacingAndGlyphs" transform="rotate(-90 353.3 620.5)">h6</text>
<line x1="496.8" y1="475.5" x2="566.3" y2="475.5" stroke="#222" stroke-width="0.85"/>
<path d="M496.8 475.8 L500.4 474.79 L500.4 476.81 Z" fill="#222" stroke="none"/>
<path d="M566.3 475.8 L562.7 474.79 L562.7 476.81 Z" fill="#222" stroke="none"/>
<path d="M531.6 475.8 L535.2 474.79 L535.2 476.81 Z" fill="#222" stroke="none"/>
<path d="M531.6 475.8 L528 474.79 L528 476.81 Z" fill="#222" stroke="none"/>
<line x1="496.5" y1="472" x2="496.5" y2="505" stroke="#222" stroke-width="0.85"/>
<line x1="531.5" y1="472" x2="531.5" y2="520" stroke="#222" stroke-width="0.85"/>
<line x1="566.5" y1="472" x2="566.5" y2="505" stroke="#222" stroke-width="0.85"/>
<text x="513.7" y="474.7" font-size="9.36" font-weight="bold" style="font-family:&quot;Liberation Sans&quot;" text-anchor="middle" fill="#111" textLength="10.6" lengthAdjust="spacingAndGlyphs" stroke="#111" stroke-width="0.3">90</text>
<text x="548.45" y="474.7" font-size="9.36" font-weight="bold" style="font-family:&quot;Liberation Sans&quot;" text-anchor="middle" fill="#111" textLength="10.5" lengthAdjust="spacingAndGlyphs" stroke="#111" stroke-width="0.3">90</text>
<line x1="503.2" y1="491.5" x2="519" y2="491.5" stroke="#222" stroke-width="0.85"/>
<path d="M503.2 491.6 L506.8 490.59 L506.8 492.61 Z" fill="#222" stroke="none"/>
<path d="M519 491.6 L515.4 490.59 L515.4 492.61 Z" fill="#222" stroke="none"/>
<line x1="544.2" y1="491.5" x2="559.6" y2="491.5" stroke="#222" stroke-width="0.85"/>
<path d="M544.2 491.6 L547.8 490.59 L547.8 492.61 Z" fill="#222" stroke="none"/>
<path d="M559.6 491.6 L556 490.59 L556 492.61 Z" fill="#222" stroke="none"/>
<line x1="503.5" y1="489" x2="503.5" y2="505" stroke="#222" stroke-width="0.85"/>
<line x1="519.5" y1="489" x2="519.5" y2="505" stroke="#222" stroke-width="0.85"/>
<line x1="544.5" y1="489" x2="544.5" y2="523" stroke="#222" stroke-width="0.85"/>
<line x1="559.5" y1="489" x2="559.5" y2="523" stroke="#222" stroke-width="0.85"/>
<text x="511.25" y="491.2" font-size="9.78" font-weight="bold" style="font-family:&quot;Liberation Sans&quot;" text-anchor="middle" fill="#111" textLength="11.1" lengthAdjust="spacingAndGlyphs" stroke="#111" stroke-width="0.3">42</text>
<text x="551.7" y="491.2" font-size="9.78" font-weight="bold" style="font-family:&quot;Liberation Sans&quot;" text-anchor="middle" fill="#111" textLength="11.6" lengthAdjust="spacingAndGlyphs" stroke="#111" stroke-width="0.3">42</text>
<path d="M503.2 504.2 L513.7 504.2 L513.7 501.7 L529.5 501.7 L529.5 504.2 L560 504.2 L560 508 L503.2 508 Z" fill="url(#hp11)" stroke="#222" stroke-width="0.8"/>
<path d="M503.2 523.2 L560 523.2 L560 527.4 L529.5 527.4 L529.5 530.1 L513.7 530.1 L513.7 527.4 L503.2 527.4 Z" fill="url(#hp11)" stroke="#222" stroke-width="0.8"/>
<rect x="496.8" y="504.2" width="7.1" height="23.2" rx="0" stroke="#222" stroke-width="1.4" fill="url(#hp14)"/>
<rect x="499.3" y="510.6" width="4.6" height="11" rx="1" stroke="#222" stroke-width="0.9" fill="#fff"/>
<rect x="503.9" y="508.6" width="14.8" height="14" rx="0" stroke="#222" stroke-width="1.1" fill="#fff"/>
<line x1="503.9" y1="512.5" x2="518.7" y2="512.5" stroke="#222" stroke-width="1.0"/>
<line x1="503.9" y1="518.5" x2="518.7" y2="518.5" stroke="#222" stroke-width="1.0"/>
<rect x="504.2" y="509" width="4" height="3.6" rx="0" stroke="#222" stroke-width="0" fill="url(#hp15)"/>
<rect x="504.2" y="518.8" width="4" height="3.6" rx="0" stroke="#222" stroke-width="0" fill="url(#hp16)"/>
<line x1="508.5" y1="508.6" x2="508.5" y2="522.6" stroke="#222" stroke-width="0.85"/>
<rect x="560" y="504.2" width="5.9" height="23.2" rx="0" stroke="#222" stroke-width="0.9" fill="#fff"/>
<line x1="563.5" y1="504.2" x2="563.5" y2="527.4" stroke="#222" stroke-width="0.85"/>
<line x1="490" y1="515.8" x2="575" y2="515.8" stroke="#222" stroke-width="0.5" stroke-dasharray="7 2 1.5 2"/>
<line x1="565.9" y1="507.5" x2="593" y2="507.5" stroke="#222" stroke-width="0.85"/>
<line x1="565.9" y1="523.5" x2="593" y2="523.5" stroke="#222" stroke-width="0.85"/>
<line x1="591.5" y1="476.2" x2="591.5" y2="523.2" stroke="#222" stroke-width="0.85"/>
<path d="M591.7 507.1 L590.69 503.5 L592.71 503.5 Z" fill="#222" stroke="none"/>
<path d="M591.7 523.2 L590.69 526.8 L592.71 526.8 Z" fill="#222" stroke="none"/>
<text x="586.6" y="497" font-size="10.06" font-weight="bold" text-anchor="middle" fill="#111" stroke="#111" stroke-width="0.3" textLength="19" lengthAdjust="spacingAndGlyphs" transform="rotate(-90 586.6 493.4)">ϕ47</text>
<text x="582.8" y="481.5" font-size="5.87" font-weight="bold" text-anchor="middle" fill="#111" stroke="#111" stroke-width="0.3" textLength="9" lengthAdjust="spacingAndGlyphs" transform="rotate(-90 582.8 479.4)">+0.1</text>
<text x="589" y="483" font-size="5.87" font-weight="bold" text-anchor="middle" fill="#111" stroke="#111" stroke-width="0.3" textLength="3.3" lengthAdjust="spacingAndGlyphs" transform="rotate(-90 589 480.9)">0</text>
<line x1="480" y1="543.5" x2="509.5" y2="543.5" stroke="#222" stroke-width="0.85"/>
<path d="M496.8 543.8 L493.2 542.79 L493.2 544.81 Z" fill="#222" stroke="none"/>
<path d="M503.2 543.8 L506.8 542.79 L506.8 544.81 Z" fill="#222" stroke="none"/>
<line x1="503.5" y1="527" x2="503.5" y2="546" stroke="#222" stroke-width="0.85"/>
<line x1="496.5" y1="527" x2="496.5" y2="546" stroke="#222" stroke-width="0.85"/>
<text x="482.65" y="542.1" font-size="10.06" font-weight="bold" style="font-family:&quot;Liberation Sans&quot;" text-anchor="middle" fill="#111" textLength="12.3" lengthAdjust="spacingAndGlyphs" stroke="#111" stroke-width="0.3">25</text>
<line x1="536.8" y1="543.5" x2="572.6" y2="543.5" stroke="#222" stroke-width="0.85"/>
<path d="M559.6 543.8 L556 542.79 L556 544.81 Z" fill="#222" stroke="none"/>
<path d="M565.9 543.8 L569.5 542.79 L569.5 544.81 Z" fill="#222" stroke="none"/>
<line x1="565.5" y1="527" x2="565.5" y2="546" stroke="#222" stroke-width="0.85"/>
<text x="545.25" y="542.1" font-size="10.06" font-weight="bold" style="font-family:&quot;Liberation Sans&quot;" text-anchor="middle" fill="#111" textLength="10.5" lengthAdjust="spacingAndGlyphs" stroke="#111" stroke-width="0.3">25</text>
<path d="M424 476.2 L491.4 476.2 L482.4 502 L414.1 502 Z" stroke="#222" stroke-width="0.8" fill="#fff"/>
<text x="454.85" y="487.2" font-size="9.5" font-weight="bold" style="font-family:&quot;Liberation Sans&quot;" text-anchor="middle" fill="#111" textLength="61.7" lengthAdjust="spacingAndGlyphs" stroke="#111" stroke-width="0.3">GB/T70.1-2000</text>
<text x="452.75" y="496.6" font-size="9.64" font-weight="bold" style="font-family:&quot;Liberation Sans&quot;" text-anchor="middle" fill="#111" textLength="47.7" lengthAdjust="spacingAndGlyphs" stroke="#111" stroke-width="0.3">M16x50-8.8</text>
<path d="M486.5 489.3 L490.6 489.3 L499.6 504.5" stroke="#222" stroke-width="0.6" fill="none"/>
<line x1="411.5" y1="514.3" x2="411.5" y2="606" stroke="#222" stroke-width="0.85"/>
<path d="M411.9 587.7 L410.89 584.1 L412.91 584.1 Z" fill="#222" stroke="none"/>
<path d="M411.9 605 L410.89 608.6 L412.91 608.6 Z" fill="#222" stroke="none"/>
<text x="405.3" y="557.9" font-size="10.89" font-weight="bold" text-anchor="middle" fill="#111" stroke="#111" stroke-width="0.3" textLength="48.8" lengthAdjust="spacingAndGlyphs" transform="rotate(-90 405.3 554)">Me=ϕ48.85</text>
<text x="406.2" y="528.4" font-size="5.03" font-weight="bold" text-anchor="middle" fill="#111" stroke="#111" stroke-width="0.3" textLength="2.6" lengthAdjust="spacingAndGlyphs" transform="rotate(-90 406.2 526.6)">0</text>
<text x="409.4" y="525.1" font-size="4.75" font-weight="bold" text-anchor="middle" fill="#111" stroke="#111" stroke-width="0.3" textLength="8.5" lengthAdjust="spacingAndGlyphs" transform="rotate(-90 409.4 523.4)">-0.03</text>
<line x1="411.3" y1="587.5" x2="468.4" y2="587.5" stroke="#222" stroke-width="0.85"/>
<line x1="411.3" y1="605.5" x2="468.4" y2="605.5" stroke="#222" stroke-width="0.85"/>
<rect x="416.4" y="554" width="86.5" height="23.1" rx="11.5" stroke="#222" stroke-width="0.8" fill="#fff"/>
<text x="459.2" y="565.3" font-size="10.61" font-weight="bold" style="font-family:&quot;Liberation Sans&quot;" text-anchor="middle" fill="#111" textLength="79.6" lengthAdjust="spacingAndGlyphs" stroke="#111" stroke-width="0.3">GB/T3478.1-1995</text>
<text x="458.7" y="573.4" font-size="5.59" font-weight="bold" style="font-family:&quot;Liberation Sans&quot;" text-anchor="middle" fill="#111" textLength="54" lengthAdjust="spacingAndGlyphs" stroke="#111" stroke-width="0.3">INT/EXT 21zX2mX30P</text>
<path d="M476.2 595.9 L474.3 597.82 L474.71 600.48 L472.04 600.92 L470.81 603.32 L468.4 602.1 L465.99 603.32 L464.76 600.92 L462.09 600.48 L462.5 597.82 L460.6 595.9 L462.5 593.98 L462.09 591.32 L464.76 590.88 L465.99 588.48 L468.4 589.7 L470.81 588.48 L472.04 590.88 L474.71 591.32 L474.3 593.98 Z" stroke="#222" stroke-width="0.9" fill="#fff"/>
<line x1="463.4" y1="595.9" x2="473.4" y2="595.9" stroke="#222" stroke-width="0.5" stroke-dasharray="1.5 1"/>
<line x1="468.4" y1="590.9" x2="468.4" y2="600.9" stroke="#222" stroke-width="0.5" stroke-dasharray="1.5 1"/>
<line x1="467.5" y1="604" x2="467.5" y2="625" stroke="#222" stroke-width="0.85"/>
<line x1="469.5" y1="604" x2="469.5" y2="625" stroke="#222" stroke-width="0.85"/>
<line x1="417.4" y1="623.5" x2="479.6" y2="623.5" stroke="#222" stroke-width="0.85"/>
<path d="M467.4 623.4 L463.8 622.39 L463.8 624.41 Z" fill="#222" stroke="none"/>
<path d="M469.8 623.4 L473.4 622.39 L473.4 624.41 Z" fill="#222" stroke="none"/>
<text x="441.5" y="622.8" font-size="11" font-weight="bold" style="font-family:&quot;Liberation Sans&quot;" text-anchor="middle" fill="#111" textLength="37" lengthAdjust="spacingAndGlyphs" stroke="#111" stroke-width="0.3">D<tspan font-size="7.5">m</tspan> = ϕ 4</text>
<path d="M503.4 565.4 L509 565.4 L522.9 591.5" stroke="#222" stroke-width="0.6" fill="none"/>
<line x1="511.7" y1="572.5" x2="566.5" y2="572.5" stroke="#222" stroke-width="0.85"/>
<path d="M511.7 572 L515.3 570.99 L515.3 573.01 Z" fill="#222" stroke="none"/>
<path d="M566.5 572 L562.9 570.99 L562.9 573.01 Z" fill="#222" stroke="none"/>
<line x1="511.5" y1="569" x2="511.5" y2="588" stroke="#222" stroke-width="0.85"/>
<line x1="566.5" y1="545" x2="566.5" y2="586" stroke="#222" stroke-width="0.85"/>
<text x="539.6" y="570.1" font-size="9.5" font-weight="bold" style="font-family:&quot;Liberation Sans&quot;" text-anchor="middle" fill="#111" textLength="16.8" lengthAdjust="spacingAndGlyphs" stroke="#111" stroke-width="0.3">130</text>
<path d="M566.5 587.7 L514.5 587.7 Q512.7 587.7 512.7 590 L512.7 602.2 Q512.7 604.5 514.5 604.5 L566.5 604.5" stroke="#222" stroke-width="0.9" fill="none"/>
<line x1="513.5" y1="589.5" x2="566.5" y2="589.5" stroke="#555" stroke-width="0.85"/>
<line x1="513.5" y1="602.5" x2="566.5" y2="602.5" stroke="#555" stroke-width="0.85"/>
<rect x="566.5" y="585" width="4.7" height="21.3" rx="0" stroke="#222" stroke-width="0.9" fill="#fff"/>
<line x1="568.5" y1="585" x2="568.5" y2="606.3" stroke="#222" stroke-width="0.85"/>
<path d="M571.2 586.8 L577.5 586.8 Q580.5 591 578.5 595 Q576.5 600 579 604.5 L571.2 604.5" stroke="#222" stroke-width="0.8" fill="none"/>
<path d="M578.5 595 Q582 600 579 604.5" stroke="#222" stroke-width="0.6" fill="none"/>
<line x1="510.8" y1="595.2" x2="580.5" y2="595.2" stroke="#222" stroke-width="0.5" stroke-dasharray="7 2 1.5 2"/>
<line x1="571.2" y1="585.5" x2="599" y2="585.5" stroke="#222" stroke-width="0.85"/>
<line x1="571.2" y1="606.5" x2="599" y2="606.5" stroke="#222" stroke-width="0.85"/>
<line x1="598.5" y1="585" x2="598.5" y2="635.1" stroke="#222" stroke-width="0.85"/>
<path d="M598.1 585 L597.09 588.6 L599.11 588.6 Z" fill="#222" stroke="none"/>
<path d="M598.1 606.3 L597.09 602.7 L599.11 602.7 Z" fill="#222" stroke="none"/>
<text x="592.5" y="631.7" font-size="10.34" font-weight="bold" text-anchor="middle" fill="#111" stroke="#111" stroke-width="0.3" textLength="17.5" lengthAdjust="spacingAndGlyphs" transform="rotate(-90 592.5 628)">ϕ52</text>
<text x="594.6" y="615.5" font-size="7.26" font-weight="bold" text-anchor="middle" fill="#111" stroke="#111" stroke-width="0.3" textLength="11.8" lengthAdjust="spacingAndGlyphs" transform="rotate(-90 594.6 612.9)">min</text>
<rect x="512.7" y="612.8" width="73.4" height="20.5" rx="10.2" stroke="#222" stroke-width="0.8" fill="#fff"/>
<text x="548.85" y="624.9" font-size="10.61" font-weight="bold" style="font-family:&quot;Liberation Sans&quot;" text-anchor="middle" fill="#111" textLength="65.3" lengthAdjust="spacingAndGlyphs" stroke="#111" stroke-width="0.3">GB/T145-2001</text>
<text x="547.25" y="633.4" font-size="9.78" font-weight="bold" style="font-family:&quot;Liberation Sans&quot;" text-anchor="middle" fill="#111" textLength="26.5" lengthAdjust="spacingAndGlyphs" stroke="#111" stroke-width="0.3">CM16</text>
<path d="M512.7 623 L504.3 623 L504.3 598.9 L510.8 594.2" stroke="#222" stroke-width="0.6" fill="none"/>
<text x="159.5" y="676.4" font-size="24.5" font-weight="normal" style="font-family:&quot;Liberation Mono&quot;" text-anchor="start" fill="#7f8ff0" textLength="283" lengthAdjust="spacingAndGlyphs" stroke="#fff" stroke-width="0.7">www.jiansuji001.com</text>
</svg>
</body></html>
